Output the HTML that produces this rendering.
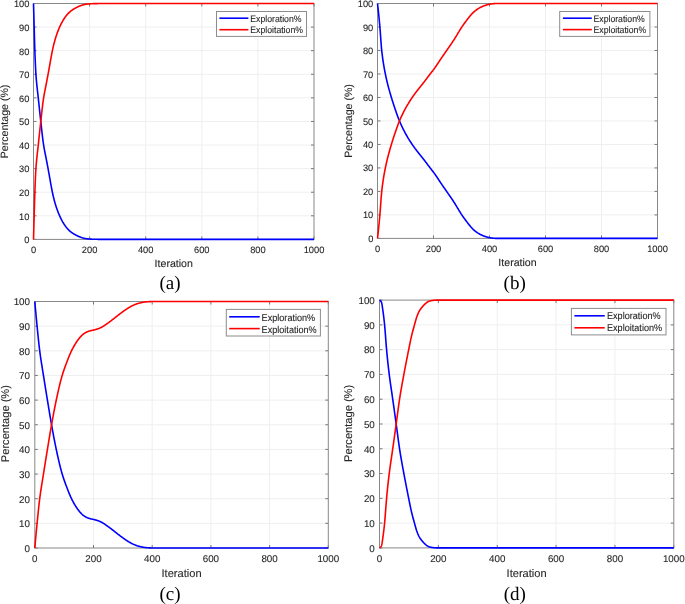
<!DOCTYPE html>
<html><head><meta charset="utf-8"><style>html,body{margin:0;padding:0;background:#fff;}svg{display:block;}#w{will-change:transform;}text{font-family:"Liberation Sans",sans-serif;fill:#262626;stroke:#262626;stroke-width:0.1px;text-rendering:geometricPrecision;}.cap{font-family:"Liberation Serif",serif;fill:#000;stroke:none;}</style></head><body>
<div id="w"><svg width="685" height="604" viewBox="0 0 685 604">
<rect x="0" y="0" width="685" height="604" fill="#fff"/>
<g>
<path d="M89.6 3.5V239.4M145.7 3.5V239.4M201.8 3.5V239.4M257.9 3.5V239.4M33.5 215.81H314M33.5 192.22H314M33.5 168.63H314M33.5 145.04H314M33.5 121.45H314M33.5 97.86H314M33.5 74.27H314M33.5 50.68H314M33.5 27.09H314" stroke="#efefef" stroke-width="1" fill="none"/>
<path d="M33.5 239.4v-3M33.5 3.5v3M89.6 239.4v-3M89.6 3.5v3M145.7 239.4v-3M145.7 3.5v3M201.8 239.4v-3M201.8 3.5v3M257.9 239.4v-3M257.9 3.5v3M314 239.4v-3M314 3.5v3M33.5 239.4h3M314 239.4h-3M33.5 215.81h3M314 215.81h-3M33.5 192.22h3M314 192.22h-3M33.5 168.63h3M314 168.63h-3M33.5 145.04h3M314 145.04h-3M33.5 121.45h3M314 121.45h-3M33.5 97.86h3M314 97.86h-3M33.5 74.27h3M314 74.27h-3M33.5 50.68h3M314 50.68h-3M33.5 27.09h3M314 27.09h-3M33.5 3.5h3M314 3.5h-3" stroke="#777" stroke-width="1" fill="none"/>
<rect x="33.5" y="3.5" width="280.5" height="235.9" fill="none" stroke="#888" stroke-width="1"/>
<path d="M33.5 3.5 L33.64 8.41 L33.78 13.33 L33.92 18.24 L34.06 23.16 L34.2 28.08 L34.34 33.22 L34.48 38.47 L34.62 43.56 L34.76 48.09 L34.9 52.16 L35.04 55.92 L35.18 59.48 L35.32 62.84 L35.46 65.97 L35.6 68.82 L35.74 71.39 L35.88 73.67 L36.02 75.72 L36.16 77.6 L36.3 79.33 L36.45 80.96 L36.59 82.49 L36.73 83.94 L36.87 85.32 L37.01 86.65 L37.15 87.92 L37.29 89.17 L37.43 90.4 L37.57 91.61 L37.71 92.84 L37.85 94.08 L37.99 95.33 L38.13 96.62 L38.27 97.92 L38.41 99.24 L38.55 100.57 L38.69 101.9 L38.83 103.24 L38.97 104.57 L39.11 105.9 L39.25 107.22 L39.39 108.54 L39.53 109.86 L39.67 111.17 L39.81 112.47 L39.95 113.76 L40.09 115.06 L40.23 116.34 L40.37 117.63 L40.51 118.91 L40.65 120.19 L40.79 121.47 L40.93 122.76 L41.07 124.04 L41.21 125.33 L41.35 126.62 L41.49 127.9 L41.63 129.19 L41.77 130.46 L41.91 131.73 L42.06 132.98 L42.2 134.21 L42.34 135.42 L42.48 136.61 L42.62 137.76 L42.76 138.89 L42.9 139.98 L43.04 141.04 L43.18 142.06 L43.32 143.05 L43.46 144 L43.6 144.91 L43.74 145.79 L43.88 146.64 L44.02 147.46 L44.16 148.26 L44.3 149.03 L44.44 149.79 L44.58 150.53 L44.72 151.26 L44.86 151.98 L45 152.69 L45.14 153.4 L45.28 154.11 L45.42 154.81 L45.56 155.52 L45.7 156.23 L45.84 156.94 L45.98 157.65 L46.12 158.36 L46.26 159.08 L46.4 159.8 L46.54 160.53 L46.68 161.26 L46.82 161.99 L46.96 162.73 L47.1 163.47 L47.24 164.21 L47.38 164.95 L47.52 165.7 L47.67 166.45 L47.81 167.21 L47.95 167.97 L48.09 168.73 L48.23 169.5 L48.37 170.27 L48.51 171.04 L48.65 171.81 L48.79 172.59 L48.93 173.37 L49.07 174.16 L49.21 174.94 L49.35 175.73 L49.49 176.52 L49.63 177.3 L49.77 178.09 L49.91 178.89 L50.05 179.68 L50.19 180.47 L50.33 181.26 L50.47 182.04 L50.74 183.57 L51.02 185.09 L51.29 186.58 L51.57 188.05 L51.84 189.48 L52.11 190.87 L52.39 192.22 L52.66 193.52 L52.93 194.78 L53.21 196 L53.48 197.16 L53.76 198.29 L54.03 199.38 L54.3 200.44 L54.58 201.46 L54.85 202.44 L55.13 203.39 L55.4 204.32 L55.67 205.21 L55.95 206.08 L56.22 206.92 L56.49 207.74 L56.77 208.54 L57.04 209.31 L57.32 210.07 L57.59 210.81 L57.86 211.53 L58.14 212.23 L58.41 212.92 L58.68 213.59 L58.96 214.25 L59.23 214.89 L59.51 215.52 L59.78 216.14 L60.05 216.74 L60.33 217.33 L60.6 217.9 L60.88 218.47 L61.15 219.02 L61.42 219.55 L61.7 220.08 L61.97 220.59 L62.24 221.09 L62.52 221.58 L62.79 222.06 L63.07 222.52 L63.34 222.98 L63.61 223.43 L63.89 223.87 L64.16 224.29 L64.44 224.71 L64.71 225.12 L64.98 225.52 L65.26 225.9 L65.53 226.28 L65.8 226.65 L66.08 227.01 L66.35 227.36 L66.63 227.69 L66.9 228.02 L67.17 228.34 L67.45 228.65 L67.72 228.95 L67.99 229.24 L68.27 229.53 L68.54 229.8 L68.82 230.08 L69.09 230.34 L69.36 230.6 L69.64 230.85 L69.91 231.09 L70.19 231.33 L70.46 231.56 L70.73 231.78 L71.01 232 L71.28 232.21 L71.55 232.41 L71.83 232.61 L72.1 232.8 L72.38 232.99 L72.65 233.18 L72.92 233.36 L73.2 233.53 L73.47 233.7 L73.75 233.87 L74.02 234.03 L74.29 234.19 L74.57 234.35 L74.84 234.5 L75.11 234.65 L75.39 234.8 L75.66 234.95 L75.94 235.1 L76.21 235.24 L76.48 235.39 L76.76 235.53 L77.03 235.67 L77.3 235.8 L77.58 235.94 L77.85 236.07 L78.13 236.2 L78.4 236.32 L78.67 236.44 L78.95 236.56 L79.22 236.68 L79.5 236.79 L79.77 236.9 L80.04 237 L80.32 237.11 L80.59 237.21 L80.86 237.31 L81.14 237.4 L81.41 237.5 L81.69 237.59 L81.96 237.68 L82.23 237.77 L82.51 237.86 L82.78 237.94 L83.06 238.02 L83.33 238.1 L83.6 238.17 L83.88 238.24 L84.15 238.3 L84.42 238.36 L84.7 238.42 L84.97 238.47 L85.25 238.52 L85.52 238.57 L85.79 238.61 L86.07 238.65 L86.34 238.69 L86.61 238.73 L86.89 238.76 L87.16 238.8 L87.44 238.83 L87.71 238.86 L87.98 238.89 L88.26 238.92 L88.53 238.95 L88.81 238.98 L89.08 239 L89.35 239.03 L89.63 239.05 L89.9 239.07 L90.17 239.09 L90.45 239.11 L90.72 239.13 L91 239.14 L91.27 239.16 L91.54 239.17 L91.82 239.18 L92.09 239.19 L92.36 239.2 L92.64 239.21 L92.91 239.22 L93.19 239.23 L93.46 239.24 L93.73 239.24 L94.01 239.25 L94.28 239.26 L94.56 239.26 L94.83 239.27 L95.1 239.27 L95.38 239.28 L95.65 239.28 L95.92 239.29 L96.2 239.3 L96.47 239.3 L96.75 239.31 L97.02 239.31 L97.29 239.32 L97.57 239.32 L97.84 239.33 L98.12 239.33 L98.39 239.33 L98.66 239.34 L98.94 239.34 L99.21 239.35 L99.48 239.35 L99.76 239.35 L100.03 239.36 L100.31 239.36 L100.58 239.36 L100.85 239.37 L101.13 239.37 L101.4 239.37 L101.67 239.38 L101.95 239.38 L102.22 239.38 L102.5 239.38 L102.77 239.38 L103.04 239.39 L103.32 239.39 L103.59 239.39 L103.87 239.39 L104.14 239.39 L104.41 239.39 L104.69 239.4 L104.96 239.4 L105.23 239.4 L105.51 239.4 L105.78 239.4 L106.06 239.4 L106.33 239.4 L106.6 239.4 L106.88 239.4 L107.15 239.4 L107.43 239.4 L107.7 239.4 L107.97 239.4 L108.25 239.4 L108.52 239.4 L108.79 239.4 L109.07 239.4 L109.34 239.4 L109.62 239.4 L109.89 239.4 L110.16 239.4 L110.44 239.4 L110.71 239.4 L110.98 239.4 L111.26 239.4 L111.53 239.4 L111.81 239.4 L112.08 239.4 L112.35 239.4 L112.63 239.4 L112.9 239.4 L113.18 239.4 L113.45 239.4 L113.72 239.4 L114 239.4 L114.27 239.4 L114.54 239.4 L114.82 239.4 L115.09 239.4 L115.37 239.4 L115.64 239.4 L115.91 239.4 L116.19 239.4 L116.46 239.4 L116.74 239.4 L117.01 239.4 L117.28 239.4 L117.56 239.4 L117.83 239.4 L118.1 239.4 L118.38 239.4 L118.65 239.4 L118.93 239.4 L119.2 239.4 L119.47 239.4 L119.75 239.4 L120.02 239.4 L120.29 239.4 L120.57 239.4 L120.84 239.4 L121.12 239.4 L121.39 239.4 L121.66 239.4 L121.94 239.4 L122.21 239.4 L122.49 239.4 L122.76 239.4 L123.03 239.4 L123.31 239.4 L123.58 239.4 L123.85 239.4 L124.13 239.4 L124.4 239.4 L124.68 239.4 L124.95 239.4 L125.22 239.4 L125.5 239.4 L125.77 239.4 L126.04 239.4 L126.32 239.4 L126.59 239.4 L126.87 239.4 L127.14 239.4 L127.41 239.4 L127.69 239.4 L127.96 239.4 L128.24 239.4 L128.51 239.4 L128.78 239.4 L129.06 239.4 L129.33 239.4 L129.6 239.4 L129.88 239.4 L130.15 239.4 L130.43 239.4 L130.7 239.4 L130.97 239.4 L131.25 239.4 L131.52 239.4 L131.8 239.4 L132.07 239.4 L132.34 239.4 L132.62 239.4 L132.89 239.4 L133.16 239.4 L133.44 239.4 L133.71 239.4 L133.99 239.4 L134.26 239.4 L134.53 239.4 L134.81 239.4 L135.08 239.4 L135.35 239.4 L135.63 239.4 L135.9 239.4 L136.18 239.4 L136.45 239.4 L136.72 239.4 L137 239.4 L137.27 239.4 L137.55 239.4 L137.82 239.4 L138.09 239.4 L138.37 239.4 L138.64 239.4 L138.91 239.4 L139.19 239.4 L139.46 239.4 L139.74 239.4 L140.01 239.4 L140.28 239.4 L140.56 239.4 L140.83 239.4 L141.11 239.4 L141.38 239.4 L141.65 239.4 L141.93 239.4 L142.2 239.4 L142.47 239.4 L142.75 239.4 L143.02 239.4 L143.3 239.4 L143.57 239.4 L143.84 239.4 L144.12 239.4 L144.39 239.4 L144.66 239.4 L144.94 239.4 L145.21 239.4 L145.49 239.4 L145.76 239.4 L146.03 239.4 L146.31 239.4 L146.58 239.4 L146.86 239.4 L147.13 239.4 L147.4 239.4 L147.68 239.4 L147.95 239.4 L148.22 239.4 L148.5 239.4 L148.77 239.4 L149.05 239.4 L149.32 239.4 L149.59 239.4 L149.87 239.4 L150.14 239.4 L150.42 239.4 L150.69 239.4 L150.96 239.4 L151.24 239.4 L151.51 239.4 L151.78 239.4 L152.06 239.4 L152.33 239.4 L152.61 239.4 L152.88 239.4 L153.15 239.4 L153.43 239.4 L153.7 239.4 L153.97 239.4 L154.25 239.4 L154.52 239.4 L154.8 239.4 L155.07 239.4 L155.34 239.4 L155.62 239.4 L155.89 239.4 L156.17 239.4 L156.44 239.4 L156.71 239.4 L156.99 239.4 L157.26 239.4 L157.53 239.4 L157.81 239.4 L158.08 239.4 L158.36 239.4 L158.63 239.4 L158.9 239.4 L159.18 239.4 L159.45 239.4 L159.73 239.4 L314 239.4" stroke="#0000ff" stroke-width="1.6" fill="none" stroke-linejoin="round"/>
<path d="M33.5 239.4 L33.64 234.49 L33.78 229.57 L33.92 224.66 L34.06 219.74 L34.2 214.82 L34.34 209.68 L34.48 204.43 L34.62 199.34 L34.76 194.81 L34.9 190.74 L35.04 186.98 L35.18 183.42 L35.32 180.06 L35.46 176.93 L35.6 174.08 L35.74 171.51 L35.88 169.23 L36.02 167.18 L36.16 165.3 L36.3 163.57 L36.45 161.94 L36.59 160.41 L36.73 158.96 L36.87 157.58 L37.01 156.25 L37.15 154.98 L37.29 153.73 L37.43 152.5 L37.57 151.29 L37.71 150.06 L37.85 148.82 L37.99 147.57 L38.13 146.28 L38.27 144.98 L38.41 143.66 L38.55 142.33 L38.69 141 L38.83 139.66 L38.97 138.33 L39.11 137 L39.25 135.68 L39.39 134.36 L39.53 133.04 L39.67 131.73 L39.81 130.43 L39.95 129.14 L40.09 127.84 L40.23 126.56 L40.37 125.27 L40.51 123.99 L40.65 122.71 L40.79 121.43 L40.93 120.14 L41.07 118.86 L41.21 117.57 L41.35 116.28 L41.49 115 L41.63 113.71 L41.77 112.44 L41.91 111.17 L42.06 109.92 L42.2 108.69 L42.34 107.48 L42.48 106.29 L42.62 105.14 L42.76 104.01 L42.9 102.92 L43.04 101.86 L43.18 100.84 L43.32 99.85 L43.46 98.9 L43.6 97.99 L43.74 97.11 L43.88 96.26 L44.02 95.44 L44.16 94.64 L44.3 93.87 L44.44 93.11 L44.58 92.37 L44.72 91.64 L44.86 90.92 L45 90.21 L45.14 89.5 L45.28 88.79 L45.42 88.09 L45.56 87.38 L45.7 86.67 L45.84 85.96 L45.98 85.25 L46.12 84.54 L46.26 83.82 L46.4 83.1 L46.54 82.37 L46.68 81.64 L46.82 80.91 L46.96 80.17 L47.1 79.43 L47.24 78.69 L47.38 77.95 L47.52 77.2 L47.67 76.45 L47.81 75.69 L47.95 74.93 L48.09 74.17 L48.23 73.4 L48.37 72.63 L48.51 71.86 L48.65 71.09 L48.79 70.31 L48.93 69.53 L49.07 68.74 L49.21 67.96 L49.35 67.17 L49.49 66.38 L49.63 65.6 L49.77 64.81 L49.91 64.01 L50.05 63.22 L50.19 62.43 L50.33 61.64 L50.47 60.86 L50.74 59.33 L51.02 57.81 L51.29 56.32 L51.57 54.85 L51.84 53.42 L52.11 52.03 L52.39 50.68 L52.66 49.38 L52.93 48.12 L53.21 46.9 L53.48 45.74 L53.76 44.61 L54.03 43.52 L54.3 42.46 L54.58 41.44 L54.85 40.46 L55.13 39.51 L55.4 38.58 L55.67 37.69 L55.95 36.82 L56.22 35.98 L56.49 35.16 L56.77 34.36 L57.04 33.59 L57.32 32.83 L57.59 32.09 L57.86 31.37 L58.14 30.67 L58.41 29.98 L58.68 29.31 L58.96 28.65 L59.23 28.01 L59.51 27.38 L59.78 26.76 L60.05 26.16 L60.33 25.57 L60.6 25 L60.88 24.43 L61.15 23.88 L61.42 23.35 L61.7 22.82 L61.97 22.31 L62.24 21.81 L62.52 21.32 L62.79 20.84 L63.07 20.38 L63.34 19.92 L63.61 19.47 L63.89 19.03 L64.16 18.61 L64.44 18.19 L64.71 17.78 L64.98 17.38 L65.26 17 L65.53 16.62 L65.8 16.25 L66.08 15.89 L66.35 15.54 L66.63 15.21 L66.9 14.88 L67.17 14.56 L67.45 14.25 L67.72 13.95 L67.99 13.66 L68.27 13.37 L68.54 13.1 L68.82 12.82 L69.09 12.56 L69.36 12.3 L69.64 12.05 L69.91 11.81 L70.19 11.57 L70.46 11.34 L70.73 11.12 L71.01 10.9 L71.28 10.69 L71.55 10.49 L71.83 10.29 L72.1 10.1 L72.38 9.91 L72.65 9.72 L72.92 9.54 L73.2 9.37 L73.47 9.2 L73.75 9.03 L74.02 8.87 L74.29 8.71 L74.57 8.55 L74.84 8.4 L75.11 8.25 L75.39 8.1 L75.66 7.95 L75.94 7.8 L76.21 7.66 L76.48 7.51 L76.76 7.37 L77.03 7.23 L77.3 7.1 L77.58 6.96 L77.85 6.83 L78.13 6.7 L78.4 6.58 L78.67 6.46 L78.95 6.34 L79.22 6.22 L79.5 6.11 L79.77 6 L80.04 5.9 L80.32 5.79 L80.59 5.69 L80.86 5.59 L81.14 5.5 L81.41 5.4 L81.69 5.31 L81.96 5.22 L82.23 5.13 L82.51 5.04 L82.78 4.96 L83.06 4.88 L83.33 4.8 L83.6 4.73 L83.88 4.66 L84.15 4.6 L84.42 4.54 L84.7 4.48 L84.97 4.43 L85.25 4.38 L85.52 4.33 L85.79 4.29 L86.07 4.25 L86.34 4.21 L86.61 4.17 L86.89 4.14 L87.16 4.1 L87.44 4.07 L87.71 4.04 L87.98 4.01 L88.26 3.98 L88.53 3.95 L88.81 3.92 L89.08 3.9 L89.35 3.87 L89.63 3.85 L89.9 3.83 L90.17 3.81 L90.45 3.79 L90.72 3.77 L91 3.76 L91.27 3.74 L91.54 3.73 L91.82 3.72 L92.09 3.71 L92.36 3.7 L92.64 3.69 L92.91 3.68 L93.19 3.67 L93.46 3.66 L93.73 3.66 L94.01 3.65 L94.28 3.64 L94.56 3.64 L94.83 3.63 L95.1 3.63 L95.38 3.62 L95.65 3.62 L95.92 3.61 L96.2 3.6 L96.47 3.6 L96.75 3.59 L97.02 3.59 L97.29 3.58 L97.57 3.58 L97.84 3.57 L98.12 3.57 L98.39 3.57 L98.66 3.56 L98.94 3.56 L99.21 3.55 L99.48 3.55 L99.76 3.55 L100.03 3.54 L100.31 3.54 L100.58 3.54 L100.85 3.53 L101.13 3.53 L101.4 3.53 L101.67 3.52 L101.95 3.52 L102.22 3.52 L102.5 3.52 L102.77 3.52 L103.04 3.51 L103.32 3.51 L103.59 3.51 L103.87 3.51 L104.14 3.51 L104.41 3.51 L104.69 3.5 L104.96 3.5 L105.23 3.5 L105.51 3.5 L105.78 3.5 L106.06 3.5 L106.33 3.5 L106.6 3.5 L106.88 3.5 L107.15 3.5 L107.43 3.5 L107.7 3.5 L107.97 3.5 L108.25 3.5 L108.52 3.5 L108.79 3.5 L109.07 3.5 L109.34 3.5 L109.62 3.5 L109.89 3.5 L110.16 3.5 L110.44 3.5 L110.71 3.5 L110.98 3.5 L111.26 3.5 L111.53 3.5 L111.81 3.5 L112.08 3.5 L112.35 3.5 L112.63 3.5 L112.9 3.5 L113.18 3.5 L113.45 3.5 L113.72 3.5 L114 3.5 L114.27 3.5 L114.54 3.5 L114.82 3.5 L115.09 3.5 L115.37 3.5 L115.64 3.5 L115.91 3.5 L116.19 3.5 L116.46 3.5 L116.74 3.5 L117.01 3.5 L117.28 3.5 L117.56 3.5 L117.83 3.5 L118.1 3.5 L118.38 3.5 L118.65 3.5 L118.93 3.5 L119.2 3.5 L119.47 3.5 L119.75 3.5 L120.02 3.5 L120.29 3.5 L120.57 3.5 L120.84 3.5 L121.12 3.5 L121.39 3.5 L121.66 3.5 L121.94 3.5 L122.21 3.5 L122.49 3.5 L122.76 3.5 L123.03 3.5 L123.31 3.5 L123.58 3.5 L123.85 3.5 L124.13 3.5 L124.4 3.5 L124.68 3.5 L124.95 3.5 L125.22 3.5 L125.5 3.5 L125.77 3.5 L126.04 3.5 L126.32 3.5 L126.59 3.5 L126.87 3.5 L127.14 3.5 L127.41 3.5 L127.69 3.5 L127.96 3.5 L128.24 3.5 L128.51 3.5 L128.78 3.5 L129.06 3.5 L129.33 3.5 L129.6 3.5 L129.88 3.5 L130.15 3.5 L130.43 3.5 L130.7 3.5 L130.97 3.5 L131.25 3.5 L131.52 3.5 L131.8 3.5 L132.07 3.5 L132.34 3.5 L132.62 3.5 L132.89 3.5 L133.16 3.5 L133.44 3.5 L133.71 3.5 L133.99 3.5 L134.26 3.5 L134.53 3.5 L134.81 3.5 L135.08 3.5 L135.35 3.5 L135.63 3.5 L135.9 3.5 L136.18 3.5 L136.45 3.5 L136.72 3.5 L137 3.5 L137.27 3.5 L137.55 3.5 L137.82 3.5 L138.09 3.5 L138.37 3.5 L138.64 3.5 L138.91 3.5 L139.19 3.5 L139.46 3.5 L139.74 3.5 L140.01 3.5 L140.28 3.5 L140.56 3.5 L140.83 3.5 L141.11 3.5 L141.38 3.5 L141.65 3.5 L141.93 3.5 L142.2 3.5 L142.47 3.5 L142.75 3.5 L143.02 3.5 L143.3 3.5 L143.57 3.5 L143.84 3.5 L144.12 3.5 L144.39 3.5 L144.66 3.5 L144.94 3.5 L145.21 3.5 L145.49 3.5 L145.76 3.5 L146.03 3.5 L146.31 3.5 L146.58 3.5 L146.86 3.5 L147.13 3.5 L147.4 3.5 L147.68 3.5 L147.95 3.5 L148.22 3.5 L148.5 3.5 L148.77 3.5 L149.05 3.5 L149.32 3.5 L149.59 3.5 L149.87 3.5 L150.14 3.5 L150.42 3.5 L150.69 3.5 L150.96 3.5 L151.24 3.5 L151.51 3.5 L151.78 3.5 L152.06 3.5 L152.33 3.5 L152.61 3.5 L152.88 3.5 L153.15 3.5 L153.43 3.5 L153.7 3.5 L153.97 3.5 L154.25 3.5 L154.52 3.5 L154.8 3.5 L155.07 3.5 L155.34 3.5 L155.62 3.5 L155.89 3.5 L156.17 3.5 L156.44 3.5 L156.71 3.5 L156.99 3.5 L157.26 3.5 L157.53 3.5 L157.81 3.5 L158.08 3.5 L158.36 3.5 L158.63 3.5 L158.9 3.5 L159.18 3.5 L159.45 3.5 L159.73 3.5 L314 3.5" stroke="#ff0000" stroke-width="1.6" fill="none" stroke-linejoin="round"/>
<text x="29.4" y="243.25" font-size="9.3" text-anchor="end">0</text>
<text x="29.4" y="219.66" font-size="9.3" text-anchor="end">10</text>
<text x="29.4" y="196.07" font-size="9.3" text-anchor="end">20</text>
<text x="29.4" y="172.48" font-size="9.3" text-anchor="end">30</text>
<text x="29.4" y="148.89" font-size="9.3" text-anchor="end">40</text>
<text x="29.4" y="125.3" font-size="9.3" text-anchor="end">50</text>
<text x="29.4" y="101.71" font-size="9.3" text-anchor="end">60</text>
<text x="29.4" y="78.12" font-size="9.3" text-anchor="end">70</text>
<text x="29.4" y="54.53" font-size="9.3" text-anchor="end">80</text>
<text x="29.4" y="30.94" font-size="9.3" text-anchor="end">90</text>
<text x="29.4" y="7.35" font-size="9.3" text-anchor="end">100</text>
<text x="33.5" y="252.6" font-size="9.3" text-anchor="middle">0</text>
<text x="89.6" y="252.6" font-size="9.3" text-anchor="middle">200</text>
<text x="145.7" y="252.6" font-size="9.3" text-anchor="middle">400</text>
<text x="201.8" y="252.6" font-size="9.3" text-anchor="middle">600</text>
<text x="257.9" y="252.6" font-size="9.3" text-anchor="middle">800</text>
<text x="314" y="252.6" font-size="9.3" text-anchor="middle">1000</text>
<text x="173.75" y="266.8" font-size="10.6" text-anchor="middle">Iteration</text>
<text x="0" y="0" font-size="10.6" text-anchor="middle" transform="translate(8 121.45) rotate(-90)">Percentage (%)</text>
<rect x="216.5" y="11.5" width="90" height="24.9" fill="#fff" stroke="#8c8c8c" stroke-width="1"/>
<path d="M219.4 18.2H248.4" stroke="#0000ff" stroke-width="1.6"/>
<path d="M219.4 29.7H248.4" stroke="#ff0000" stroke-width="1.6"/>
<text font-size="8.7" transform="translate(250.3 21.7) scale(1 1.08)">Exploration%</text>
<text font-size="8.7" transform="translate(250.3 33.2) scale(1 1.08)">Exploitation%</text>
<text class="cap" x="169.95" y="289" font-size="19" text-anchor="middle">(a)</text>
</g>
<g>
<path d="M433.5 3.5V238.4M489.5 3.5V238.4M545.5 3.5V238.4M601.5 3.5V238.4M377.5 214.91H657.5M377.5 191.42H657.5M377.5 167.93H657.5M377.5 144.44H657.5M377.5 120.95H657.5M377.5 97.46H657.5M377.5 73.97H657.5M377.5 50.48H657.5M377.5 26.99H657.5" stroke="#efefef" stroke-width="1" fill="none"/>
<path d="M377.5 238.4v-3M377.5 3.5v3M433.5 238.4v-3M433.5 3.5v3M489.5 238.4v-3M489.5 3.5v3M545.5 238.4v-3M545.5 3.5v3M601.5 238.4v-3M601.5 3.5v3M657.5 238.4v-3M657.5 3.5v3M377.5 238.4h3M657.5 238.4h-3M377.5 214.91h3M657.5 214.91h-3M377.5 191.42h3M657.5 191.42h-3M377.5 167.93h3M657.5 167.93h-3M377.5 144.44h3M657.5 144.44h-3M377.5 120.95h3M657.5 120.95h-3M377.5 97.46h3M657.5 97.46h-3M377.5 73.97h3M657.5 73.97h-3M377.5 50.48h3M657.5 50.48h-3M377.5 26.99h3M657.5 26.99h-3M377.5 3.5h3M657.5 3.5h-3" stroke="#777" stroke-width="1" fill="none"/>
<rect x="377.5" y="3.5" width="280" height="234.9" fill="none" stroke="#888" stroke-width="1"/>
<path d="M377.5 3.5 L377.64 4.66 L377.78 5.85 L377.92 7.07 L378.06 8.32 L378.2 9.61 L378.34 10.92 L378.48 12.26 L378.62 13.63 L378.76 15.03 L378.9 16.45 L379.04 17.89 L379.18 19.36 L379.32 20.85 L379.46 22.36 L379.6 23.89 L379.74 25.44 L379.88 27.04 L380.02 28.73 L380.16 30.5 L380.3 32.37 L380.44 34.29 L380.58 36.26 L380.72 38.24 L380.86 40.21 L381 42.12 L381.14 43.97 L381.28 45.71 L381.42 47.34 L381.56 48.85 L381.7 50.25 L381.84 51.56 L381.98 52.79 L382.12 53.97 L382.26 55.1 L382.4 56.2 L382.54 57.26 L382.68 58.3 L382.82 59.3 L382.96 60.28 L383.1 61.23 L383.24 62.15 L383.38 63.06 L383.52 63.94 L383.66 64.8 L383.8 65.64 L383.94 66.46 L384.08 67.26 L384.22 68.05 L384.36 68.82 L384.5 69.58 L384.64 70.33 L384.78 71.07 L384.92 71.79 L385.06 72.5 L385.2 73.21 L385.34 73.9 L385.48 74.59 L385.62 75.26 L385.76 75.93 L385.9 76.59 L386.04 77.23 L386.18 77.87 L386.32 78.5 L386.46 79.13 L386.6 79.74 L386.74 80.34 L386.88 80.94 L387.02 81.53 L387.16 82.11 L387.3 82.69 L387.44 83.26 L387.58 83.82 L387.72 84.38 L387.86 84.92 L388 85.47 L388.14 86.01 L388.28 86.54 L388.42 87.07 L388.56 87.59 L388.7 88.11 L388.84 88.62 L388.98 89.13 L389.12 89.64 L389.26 90.14 L389.4 90.65 L389.54 91.14 L389.68 91.64 L389.82 92.13 L389.96 92.62 L390.1 93.11 L390.24 93.59 L390.38 94.08 L390.52 94.56 L390.66 95.04 L390.8 95.52 L390.94 95.99 L391.08 96.46 L391.22 96.94 L391.36 97.4 L391.5 97.87 L391.64 98.33 L391.78 98.79 L391.92 99.25 L392.06 99.71 L392.2 100.16 L392.34 100.61 L392.48 101.05 L392.62 101.5 L392.76 101.94 L392.9 102.37 L393.04 102.81 L393.18 103.24 L393.32 103.67 L393.46 104.1 L393.6 104.53 L393.74 104.95 L393.88 105.38 L394.02 105.8 L394.16 106.22 L394.3 106.64 L394.44 107.05 L394.71 107.87 L394.99 108.67 L395.26 109.48 L395.53 110.28 L395.81 111.07 L396.08 111.86 L396.35 112.64 L396.63 113.42 L396.9 114.19 L397.17 114.96 L397.45 115.71 L397.72 116.45 L397.99 117.18 L398.27 117.9 L398.54 118.61 L398.81 119.31 L399.09 119.99 L399.36 120.67 L399.63 121.33 L399.91 121.98 L400.18 122.62 L400.45 123.25 L400.73 123.87 L401 124.48 L401.27 125.08 L401.55 125.68 L401.82 126.26 L402.09 126.84 L402.37 127.42 L402.64 127.98 L402.91 128.54 L403.19 129.09 L403.46 129.63 L403.73 130.17 L404.01 130.7 L404.28 131.22 L404.55 131.74 L404.83 132.26 L405.1 132.77 L405.37 133.27 L405.65 133.77 L405.92 134.26 L406.19 134.74 L406.47 135.23 L406.74 135.71 L407.01 136.18 L407.29 136.65 L407.56 137.12 L407.83 137.58 L408.11 138.03 L408.38 138.49 L408.65 138.94 L408.93 139.38 L409.2 139.82 L409.47 140.26 L409.75 140.69 L410.02 141.12 L410.29 141.55 L410.57 141.97 L410.84 142.39 L411.11 142.81 L411.39 143.22 L411.66 143.63 L411.93 144.03 L412.21 144.43 L412.48 144.83 L412.75 145.23 L413.03 145.62 L413.3 146.01 L413.57 146.39 L413.85 146.78 L414.12 147.15 L414.39 147.53 L414.67 147.9 L414.94 148.27 L415.21 148.64 L415.49 149 L415.76 149.37 L416.03 149.73 L416.31 150.09 L416.58 150.44 L416.85 150.8 L417.13 151.15 L417.4 151.5 L417.67 151.85 L417.95 152.2 L418.22 152.55 L418.49 152.89 L418.77 153.24 L419.04 153.58 L419.31 153.92 L419.59 154.27 L419.86 154.61 L420.13 154.95 L420.41 155.28 L420.68 155.62 L420.95 155.96 L421.23 156.3 L421.5 156.64 L421.77 156.97 L422.05 157.32 L422.32 157.66 L422.59 158 L422.87 158.35 L423.14 158.69 L423.41 159.04 L423.69 159.39 L423.96 159.74 L424.23 160.09 L424.51 160.45 L424.78 160.8 L425.05 161.16 L425.33 161.52 L425.6 161.88 L425.87 162.25 L426.15 162.61 L426.42 162.97 L426.69 163.33 L426.97 163.7 L427.24 164.06 L427.51 164.43 L427.79 164.79 L428.06 165.16 L428.33 165.52 L428.61 165.88 L428.88 166.24 L429.15 166.6 L429.43 166.96 L429.7 167.32 L429.97 167.68 L430.25 168.03 L430.52 168.39 L430.79 168.74 L431.07 169.09 L431.34 169.44 L431.61 169.79 L431.89 170.14 L432.16 170.49 L432.43 170.85 L432.71 171.2 L432.98 171.56 L433.25 171.91 L433.53 172.27 L433.8 172.64 L434.07 173 L434.35 173.38 L434.62 173.75 L434.89 174.13 L435.17 174.51 L435.44 174.9 L435.71 175.29 L435.99 175.69 L436.26 176.09 L436.53 176.49 L436.81 176.9 L437.08 177.31 L437.35 177.72 L437.63 178.13 L437.9 178.55 L438.17 178.96 L438.45 179.38 L438.72 179.8 L438.99 180.22 L439.27 180.63 L439.54 181.05 L439.81 181.46 L440.09 181.88 L440.36 182.29 L440.63 182.7 L440.91 183.1 L441.18 183.51 L441.45 183.91 L441.73 184.32 L442 184.72 L442.27 185.12 L442.55 185.51 L442.82 185.91 L443.09 186.3 L443.37 186.7 L443.64 187.09 L443.91 187.48 L444.19 187.87 L444.46 188.27 L444.73 188.66 L445.01 189.05 L445.28 189.44 L445.55 189.84 L445.83 190.23 L446.1 190.62 L446.37 191.01 L446.65 191.4 L446.92 191.79 L447.19 192.19 L447.47 192.58 L447.74 192.97 L448.01 193.37 L448.29 193.76 L448.56 194.15 L448.83 194.55 L449.11 194.94 L449.38 195.33 L449.65 195.72 L449.93 196.12 L450.2 196.52 L450.47 196.91 L450.75 197.31 L451.02 197.71 L451.29 198.11 L451.57 198.51 L451.84 198.92 L452.11 199.32 L452.39 199.73 L452.66 200.14 L452.93 200.55 L453.21 200.97 L453.48 201.39 L453.75 201.81 L454.03 202.23 L454.3 202.66 L454.57 203.09 L454.85 203.53 L455.12 203.96 L455.39 204.41 L455.67 204.85 L455.94 205.3 L456.21 205.75 L456.49 206.2 L456.76 206.66 L457.03 207.12 L457.31 207.57 L457.58 208.03 L457.85 208.49 L458.13 208.95 L458.4 209.4 L458.67 209.86 L458.95 210.31 L459.22 210.77 L459.49 211.21 L459.77 211.66 L460.04 212.1 L460.31 212.54 L460.59 212.97 L460.86 213.4 L461.13 213.83 L461.41 214.25 L461.68 214.66 L461.95 215.07 L462.23 215.48 L462.5 215.88 L462.77 216.28 L463.05 216.67 L463.32 217.06 L463.59 217.45 L463.87 217.83 L464.14 218.21 L464.41 218.59 L464.69 218.96 L464.96 219.33 L465.23 219.7 L465.51 220.07 L465.78 220.43 L466.05 220.79 L466.33 221.15 L466.6 221.51 L466.87 221.87 L467.15 222.23 L467.42 222.58 L467.69 222.94 L467.97 223.29 L468.24 223.64 L468.51 223.99 L468.79 224.34 L469.06 224.69 L469.33 225.03 L469.61 225.37 L469.88 225.71 L470.15 226.04 L470.43 226.37 L470.7 226.69 L470.97 227.01 L471.25 227.32 L471.52 227.63 L471.79 227.92 L472.07 228.21 L472.34 228.5 L472.61 228.78 L472.89 229.05 L473.16 229.31 L473.43 229.57 L473.71 229.82 L473.98 230.07 L474.25 230.31 L474.53 230.55 L474.8 230.77 L475.07 231 L475.35 231.22 L475.62 231.43 L475.89 231.64 L476.17 231.85 L476.44 232.05 L476.71 232.24 L476.99 232.43 L477.26 232.62 L477.53 232.8 L477.81 232.98 L478.08 233.16 L478.35 233.33 L478.63 233.49 L478.9 233.66 L479.17 233.81 L479.45 233.97 L479.72 234.12 L479.99 234.27 L480.27 234.41 L480.54 234.55 L480.81 234.69 L481.09 234.83 L481.36 234.96 L481.63 235.09 L481.91 235.21 L482.18 235.33 L482.45 235.45 L482.73 235.57 L483 235.68 L483.27 235.79 L483.55 235.9 L483.82 236.01 L484.09 236.11 L484.37 236.21 L484.64 236.31 L484.91 236.41 L485.19 236.5 L485.46 236.59 L485.73 236.68 L486.01 236.77 L486.28 236.85 L486.55 236.94 L486.83 237.02 L487.1 237.09 L487.37 237.17 L487.65 237.24 L487.92 237.31 L488.19 237.38 L488.47 237.45 L488.74 237.51 L489.01 237.57 L489.29 237.62 L489.56 237.68 L489.83 237.73 L490.11 237.78 L490.38 237.83 L490.65 237.87 L490.93 237.91 L491.2 237.95 L491.47 237.99 L491.75 238.03 L492.02 238.07 L492.29 238.1 L492.57 238.13 L492.84 238.16 L493.11 238.19 L493.39 238.22 L493.66 238.24 L493.93 238.26 L494.21 238.29 L494.48 238.3 L494.75 238.32 L495.03 238.33 L495.3 238.35 L495.57 238.36 L495.85 238.37 L496.12 238.37 L496.39 238.38 L496.67 238.39 L496.94 238.39 L497.21 238.39 L497.49 238.39 L497.76 238.4 L498.03 238.4 L498.31 238.4 L498.58 238.4 L498.85 238.4 L499.13 238.4 L499.4 238.4 L499.67 238.4 L499.95 238.4 L500.22 238.4 L500.49 238.4 L500.77 238.4 L501.04 238.4 L501.31 238.4 L501.59 238.4 L501.86 238.4 L502.13 238.4 L502.41 238.4 L502.68 238.4 L502.95 238.4 L503.23 238.4 L503.5 238.4 L657.5 238.4" stroke="#0000ff" stroke-width="1.6" fill="none" stroke-linejoin="round"/>
<path d="M377.5 238.4 L377.64 237.24 L377.78 236.05 L377.92 234.83 L378.06 233.58 L378.2 232.29 L378.34 230.98 L378.48 229.64 L378.62 228.27 L378.76 226.87 L378.9 225.45 L379.04 224.01 L379.18 222.54 L379.32 221.05 L379.46 219.54 L379.6 218.01 L379.74 216.46 L379.88 214.86 L380.02 213.17 L380.16 211.4 L380.3 209.53 L380.44 207.61 L380.58 205.64 L380.72 203.66 L380.86 201.69 L381 199.78 L381.14 197.93 L381.28 196.19 L381.42 194.56 L381.56 193.05 L381.7 191.65 L381.84 190.34 L381.98 189.11 L382.12 187.93 L382.26 186.8 L382.4 185.7 L382.54 184.64 L382.68 183.6 L382.82 182.6 L382.96 181.62 L383.1 180.67 L383.24 179.75 L383.38 178.84 L383.52 177.96 L383.66 177.1 L383.8 176.26 L383.94 175.44 L384.08 174.64 L384.22 173.85 L384.36 173.08 L384.5 172.32 L384.64 171.57 L384.78 170.83 L384.92 170.11 L385.06 169.4 L385.2 168.69 L385.34 168 L385.48 167.31 L385.62 166.64 L385.76 165.97 L385.9 165.31 L386.04 164.67 L386.18 164.03 L386.32 163.4 L386.46 162.77 L386.6 162.16 L386.74 161.56 L386.88 160.96 L387.02 160.37 L387.16 159.79 L387.3 159.21 L387.44 158.64 L387.58 158.08 L387.72 157.52 L387.86 156.98 L388 156.43 L388.14 155.89 L388.28 155.36 L388.42 154.83 L388.56 154.31 L388.7 153.79 L388.84 153.28 L388.98 152.77 L389.12 152.26 L389.26 151.76 L389.4 151.25 L389.54 150.76 L389.68 150.26 L389.82 149.77 L389.96 149.28 L390.1 148.79 L390.24 148.31 L390.38 147.82 L390.52 147.34 L390.66 146.86 L390.8 146.38 L390.94 145.91 L391.08 145.44 L391.22 144.96 L391.36 144.5 L391.5 144.03 L391.64 143.57 L391.78 143.11 L391.92 142.65 L392.06 142.19 L392.2 141.74 L392.34 141.29 L392.48 140.85 L392.62 140.4 L392.76 139.96 L392.9 139.53 L393.04 139.09 L393.18 138.66 L393.32 138.23 L393.46 137.8 L393.6 137.37 L393.74 136.95 L393.88 136.52 L394.02 136.1 L394.16 135.68 L394.3 135.26 L394.44 134.85 L394.71 134.03 L394.99 133.23 L395.26 132.42 L395.53 131.62 L395.81 130.83 L396.08 130.04 L396.35 129.26 L396.63 128.48 L396.9 127.71 L397.17 126.94 L397.45 126.19 L397.72 125.45 L397.99 124.72 L398.27 124 L398.54 123.29 L398.81 122.59 L399.09 121.91 L399.36 121.23 L399.63 120.57 L399.91 119.92 L400.18 119.28 L400.45 118.65 L400.73 118.03 L401 117.42 L401.27 116.82 L401.55 116.22 L401.82 115.64 L402.09 115.06 L402.37 114.48 L402.64 113.92 L402.91 113.36 L403.19 112.81 L403.46 112.27 L403.73 111.73 L404.01 111.2 L404.28 110.68 L404.55 110.16 L404.83 109.64 L405.1 109.13 L405.37 108.63 L405.65 108.13 L405.92 107.64 L406.19 107.16 L406.47 106.67 L406.74 106.19 L407.01 105.72 L407.29 105.25 L407.56 104.78 L407.83 104.32 L408.11 103.87 L408.38 103.41 L408.65 102.96 L408.93 102.52 L409.2 102.08 L409.47 101.64 L409.75 101.21 L410.02 100.78 L410.29 100.35 L410.57 99.93 L410.84 99.51 L411.11 99.09 L411.39 98.68 L411.66 98.27 L411.93 97.87 L412.21 97.47 L412.48 97.07 L412.75 96.67 L413.03 96.28 L413.3 95.89 L413.57 95.51 L413.85 95.12 L414.12 94.75 L414.39 94.37 L414.67 94 L414.94 93.63 L415.21 93.26 L415.49 92.9 L415.76 92.53 L416.03 92.17 L416.31 91.81 L416.58 91.46 L416.85 91.1 L417.13 90.75 L417.4 90.4 L417.67 90.05 L417.95 89.7 L418.22 89.35 L418.49 89.01 L418.77 88.66 L419.04 88.32 L419.31 87.98 L419.59 87.63 L419.86 87.29 L420.13 86.95 L420.41 86.62 L420.68 86.28 L420.95 85.94 L421.23 85.6 L421.5 85.26 L421.77 84.93 L422.05 84.58 L422.32 84.24 L422.59 83.9 L422.87 83.55 L423.14 83.21 L423.41 82.86 L423.69 82.51 L423.96 82.16 L424.23 81.81 L424.51 81.45 L424.78 81.1 L425.05 80.74 L425.33 80.38 L425.6 80.02 L425.87 79.65 L426.15 79.29 L426.42 78.93 L426.69 78.57 L426.97 78.2 L427.24 77.84 L427.51 77.47 L427.79 77.11 L428.06 76.74 L428.33 76.38 L428.61 76.02 L428.88 75.66 L429.15 75.3 L429.43 74.94 L429.7 74.58 L429.97 74.22 L430.25 73.87 L430.52 73.51 L430.79 73.16 L431.07 72.81 L431.34 72.46 L431.61 72.11 L431.89 71.76 L432.16 71.41 L432.43 71.05 L432.71 70.7 L432.98 70.34 L433.25 69.99 L433.53 69.63 L433.8 69.26 L434.07 68.9 L434.35 68.52 L434.62 68.15 L434.89 67.77 L435.17 67.39 L435.44 67 L435.71 66.61 L435.99 66.21 L436.26 65.81 L436.53 65.41 L436.81 65 L437.08 64.59 L437.35 64.18 L437.63 63.77 L437.9 63.35 L438.17 62.94 L438.45 62.52 L438.72 62.1 L438.99 61.68 L439.27 61.27 L439.54 60.85 L439.81 60.44 L440.09 60.02 L440.36 59.61 L440.63 59.2 L440.91 58.8 L441.18 58.39 L441.45 57.99 L441.73 57.58 L442 57.18 L442.27 56.78 L442.55 56.39 L442.82 55.99 L443.09 55.6 L443.37 55.2 L443.64 54.81 L443.91 54.42 L444.19 54.03 L444.46 53.63 L444.73 53.24 L445.01 52.85 L445.28 52.46 L445.55 52.06 L445.83 51.67 L446.1 51.28 L446.37 50.89 L446.65 50.5 L446.92 50.11 L447.19 49.71 L447.47 49.32 L447.74 48.93 L448.01 48.53 L448.29 48.14 L448.56 47.75 L448.83 47.35 L449.11 46.96 L449.38 46.57 L449.65 46.18 L449.93 45.78 L450.2 45.38 L450.47 44.99 L450.75 44.59 L451.02 44.19 L451.29 43.79 L451.57 43.39 L451.84 42.98 L452.11 42.58 L452.39 42.17 L452.66 41.76 L452.93 41.35 L453.21 40.93 L453.48 40.51 L453.75 40.09 L454.03 39.67 L454.3 39.24 L454.57 38.81 L454.85 38.37 L455.12 37.94 L455.39 37.49 L455.67 37.05 L455.94 36.6 L456.21 36.15 L456.49 35.7 L456.76 35.24 L457.03 34.78 L457.31 34.33 L457.58 33.87 L457.85 33.41 L458.13 32.95 L458.4 32.5 L458.67 32.04 L458.95 31.59 L459.22 31.13 L459.49 30.69 L459.77 30.24 L460.04 29.8 L460.31 29.36 L460.59 28.93 L460.86 28.5 L461.13 28.07 L461.41 27.65 L461.68 27.24 L461.95 26.83 L462.23 26.42 L462.5 26.02 L462.77 25.62 L463.05 25.23 L463.32 24.84 L463.59 24.45 L463.87 24.07 L464.14 23.69 L464.41 23.31 L464.69 22.94 L464.96 22.57 L465.23 22.2 L465.51 21.83 L465.78 21.47 L466.05 21.11 L466.33 20.75 L466.6 20.39 L466.87 20.03 L467.15 19.67 L467.42 19.32 L467.69 18.96 L467.97 18.61 L468.24 18.26 L468.51 17.91 L468.79 17.56 L469.06 17.21 L469.33 16.87 L469.61 16.53 L469.88 16.19 L470.15 15.86 L470.43 15.53 L470.7 15.21 L470.97 14.89 L471.25 14.58 L471.52 14.27 L471.79 13.98 L472.07 13.69 L472.34 13.4 L472.61 13.12 L472.89 12.85 L473.16 12.59 L473.43 12.33 L473.71 12.08 L473.98 11.83 L474.25 11.59 L474.53 11.35 L474.8 11.13 L475.07 10.9 L475.35 10.68 L475.62 10.47 L475.89 10.26 L476.17 10.05 L476.44 9.85 L476.71 9.66 L476.99 9.47 L477.26 9.28 L477.53 9.1 L477.81 8.92 L478.08 8.74 L478.35 8.57 L478.63 8.41 L478.9 8.24 L479.17 8.09 L479.45 7.93 L479.72 7.78 L479.99 7.63 L480.27 7.49 L480.54 7.35 L480.81 7.21 L481.09 7.07 L481.36 6.94 L481.63 6.81 L481.91 6.69 L482.18 6.57 L482.45 6.45 L482.73 6.33 L483 6.22 L483.27 6.11 L483.55 6 L483.82 5.89 L484.09 5.79 L484.37 5.69 L484.64 5.59 L484.91 5.49 L485.19 5.4 L485.46 5.31 L485.73 5.22 L486.01 5.13 L486.28 5.05 L486.55 4.96 L486.83 4.88 L487.1 4.81 L487.37 4.73 L487.65 4.66 L487.92 4.59 L488.19 4.52 L488.47 4.45 L488.74 4.39 L489.01 4.33 L489.29 4.28 L489.56 4.22 L489.83 4.17 L490.11 4.12 L490.38 4.07 L490.65 4.03 L490.93 3.99 L491.2 3.95 L491.47 3.91 L491.75 3.87 L492.02 3.83 L492.29 3.8 L492.57 3.77 L492.84 3.74 L493.11 3.71 L493.39 3.68 L493.66 3.66 L493.93 3.64 L494.21 3.61 L494.48 3.6 L494.75 3.58 L495.03 3.57 L495.3 3.55 L495.57 3.54 L495.85 3.53 L496.12 3.53 L496.39 3.52 L496.67 3.51 L496.94 3.51 L497.21 3.51 L497.49 3.51 L497.76 3.5 L498.03 3.5 L498.31 3.5 L498.58 3.5 L498.85 3.5 L499.13 3.5 L499.4 3.5 L499.67 3.5 L499.95 3.5 L500.22 3.5 L500.49 3.5 L500.77 3.5 L501.04 3.5 L501.31 3.5 L501.59 3.5 L501.86 3.5 L502.13 3.5 L502.41 3.5 L502.68 3.5 L502.95 3.5 L503.23 3.5 L503.5 3.5 L657.5 3.5" stroke="#ff0000" stroke-width="1.6" fill="none" stroke-linejoin="round"/>
<text x="373.3" y="241.95" font-size="9.3" text-anchor="end">0</text>
<text x="373.3" y="218.46" font-size="9.3" text-anchor="end">10</text>
<text x="373.3" y="194.97" font-size="9.3" text-anchor="end">20</text>
<text x="373.3" y="171.48" font-size="9.3" text-anchor="end">30</text>
<text x="373.3" y="147.99" font-size="9.3" text-anchor="end">40</text>
<text x="373.3" y="124.5" font-size="9.3" text-anchor="end">50</text>
<text x="373.3" y="101.01" font-size="9.3" text-anchor="end">60</text>
<text x="373.3" y="77.52" font-size="9.3" text-anchor="end">70</text>
<text x="373.3" y="54.03" font-size="9.3" text-anchor="end">80</text>
<text x="373.3" y="30.54" font-size="9.3" text-anchor="end">90</text>
<text x="373.3" y="7.05" font-size="9.3" text-anchor="end">100</text>
<text x="377.5" y="251.8" font-size="9.3" text-anchor="middle">0</text>
<text x="433.5" y="251.8" font-size="9.3" text-anchor="middle">200</text>
<text x="489.5" y="251.8" font-size="9.3" text-anchor="middle">400</text>
<text x="545.5" y="251.8" font-size="9.3" text-anchor="middle">600</text>
<text x="601.5" y="251.8" font-size="9.3" text-anchor="middle">800</text>
<text x="657.5" y="251.8" font-size="9.3" text-anchor="middle">1000</text>
<text x="517.5" y="265.7" font-size="10.6" text-anchor="middle">Iteration</text>
<text x="0" y="0" font-size="10.6" text-anchor="middle" transform="translate(351.6 120.95) rotate(-90)">Percentage (%)</text>
<rect x="559.7" y="11.5" width="90.2" height="24.9" fill="#fff" stroke="#8c8c8c" stroke-width="1"/>
<path d="M562.9 18.2H591.8" stroke="#0000ff" stroke-width="1.6"/>
<path d="M562.9 29.6H591.8" stroke="#ff0000" stroke-width="1.6"/>
<text font-size="8.7" transform="translate(593.5 21.7) scale(1 1.08)">Exploration%</text>
<text font-size="8.7" transform="translate(593.5 33.1) scale(1 1.08)">Exploitation%</text>
<text class="cap" x="514.7" y="289" font-size="19" text-anchor="middle">(b)</text>
</g>
<g>
<path d="M93.5 301.5V548M152.2 301.5V548M210.9 301.5V548M269.6 301.5V548M34.8 523.35H328.3M34.8 498.7H328.3M34.8 474.05H328.3M34.8 449.4H328.3M34.8 424.75H328.3M34.8 400.1H328.3M34.8 375.45H328.3M34.8 350.8H328.3M34.8 326.15H328.3" stroke="#efefef" stroke-width="1" fill="none"/>
<path d="M34.8 548v-3M34.8 301.5v3M93.5 548v-3M93.5 301.5v3M152.2 548v-3M152.2 301.5v3M210.9 548v-3M210.9 301.5v3M269.6 548v-3M269.6 301.5v3M328.3 548v-3M328.3 301.5v3M34.8 548h3M328.3 548h-3M34.8 523.35h3M328.3 523.35h-3M34.8 498.7h3M328.3 498.7h-3M34.8 474.05h3M328.3 474.05h-3M34.8 449.4h3M328.3 449.4h-3M34.8 424.75h3M328.3 424.75h-3M34.8 400.1h3M328.3 400.1h-3M34.8 375.45h3M328.3 375.45h-3M34.8 350.8h3M328.3 350.8h-3M34.8 326.15h3M328.3 326.15h-3M34.8 301.5h3M328.3 301.5h-3" stroke="#777" stroke-width="1" fill="none"/>
<rect x="34.8" y="301.5" width="293.5" height="246.5" fill="none" stroke="#888" stroke-width="1"/>
<path d="M34.8 301.5 L34.95 303.17 L35.09 304.82 L35.24 306.47 L35.39 308.1 L35.53 309.72 L35.68 311.33 L35.83 312.93 L35.97 314.52 L36.12 316.09 L36.27 317.65 L36.41 319.2 L36.56 320.73 L36.71 322.25 L36.85 323.76 L37 325.25 L37.15 326.74 L37.29 328.22 L37.44 329.71 L37.59 331.19 L37.73 332.66 L37.88 334.13 L38.03 335.59 L38.18 337.04 L38.32 338.47 L38.47 339.89 L38.62 341.28 L38.76 342.65 L38.91 344 L39.06 345.31 L39.2 346.6 L39.35 347.85 L39.5 349.06 L39.64 350.25 L39.79 351.4 L39.94 352.53 L40.08 353.62 L40.23 354.7 L40.38 355.75 L40.52 356.78 L40.67 357.8 L40.82 358.79 L40.96 359.77 L41.11 360.74 L41.26 361.69 L41.4 362.64 L41.55 363.57 L41.7 364.5 L41.84 365.42 L41.99 366.33 L42.14 367.24 L42.28 368.15 L42.43 369.06 L42.58 369.97 L42.72 370.88 L42.87 371.8 L43.02 372.71 L43.16 373.63 L43.31 374.55 L43.46 375.47 L43.6 376.4 L43.75 377.32 L43.9 378.24 L44.05 379.17 L44.19 380.09 L44.34 381.02 L44.49 381.94 L44.63 382.86 L44.78 383.78 L44.93 384.7 L45.07 385.61 L45.22 386.53 L45.37 387.44 L45.51 388.35 L45.66 389.26 L45.81 390.17 L45.95 391.08 L46.1 391.98 L46.25 392.89 L46.39 393.79 L46.54 394.69 L46.69 395.6 L46.83 396.5 L46.98 397.4 L47.13 398.3 L47.27 399.2 L47.42 400.1 L47.57 401 L47.71 401.9 L47.86 402.8 L48.01 403.7 L48.15 404.59 L48.3 405.49 L48.45 406.39 L48.59 407.28 L48.74 408.18 L48.89 409.07 L49.03 409.96 L49.18 410.85 L49.33 411.74 L49.47 412.62 L49.62 413.5 L49.77 414.38 L49.92 415.25 L50.06 416.12 L50.21 416.99 L50.36 417.86 L50.5 418.72 L50.65 419.57 L50.8 420.42 L50.94 421.27 L51.09 422.12 L51.24 422.96 L51.38 423.79 L51.53 424.63 L51.68 425.46 L51.82 426.28 L51.97 427.1 L52.12 427.92 L52.26 428.74 L52.41 429.55 L52.56 430.35 L52.84 431.92 L53.13 433.47 L53.42 435 L53.7 436.53 L53.99 438.03 L54.28 439.52 L54.56 440.99 L54.85 442.44 L55.14 443.88 L55.42 445.3 L55.71 446.7 L55.99 448.09 L56.28 449.47 L56.57 450.83 L56.85 452.18 L57.14 453.51 L57.43 454.82 L57.71 456.13 L58 457.41 L58.29 458.69 L58.57 459.94 L58.86 461.17 L59.15 462.4 L59.43 463.6 L59.72 464.78 L60.01 465.94 L60.29 467.08 L60.58 468.2 L60.87 469.29 L61.15 470.36 L61.44 471.41 L61.73 472.42 L62.01 473.41 L62.3 474.38 L62.58 475.32 L62.87 476.24 L63.16 477.14 L63.44 478.02 L63.73 478.88 L64.02 479.72 L64.3 480.54 L64.59 481.36 L64.88 482.15 L65.16 482.95 L65.45 483.73 L65.74 484.51 L66.02 485.28 L66.31 486.04 L66.6 486.81 L66.88 487.56 L67.17 488.31 L67.46 489.06 L67.74 489.8 L68.03 490.54 L68.31 491.26 L68.6 491.99 L68.89 492.7 L69.17 493.4 L69.46 494.09 L69.75 494.78 L70.03 495.45 L70.32 496.1 L70.61 496.75 L70.89 497.37 L71.18 497.99 L71.47 498.6 L71.75 499.19 L72.04 499.77 L72.33 500.33 L72.61 500.89 L72.9 501.43 L73.19 501.96 L73.47 502.48 L73.76 502.99 L74.05 503.49 L74.33 503.99 L74.62 504.47 L74.9 504.95 L75.19 505.42 L75.48 505.88 L75.76 506.33 L76.05 506.78 L76.34 507.22 L76.62 507.65 L76.91 508.08 L77.2 508.5 L77.48 508.91 L77.77 509.31 L78.06 509.71 L78.34 510.09 L78.63 510.47 L78.92 510.84 L79.2 511.19 L79.49 511.54 L79.78 511.88 L80.06 512.21 L80.35 512.53 L80.63 512.84 L80.92 513.15 L81.21 513.44 L81.49 513.73 L81.78 514.01 L82.07 514.28 L82.35 514.54 L82.64 514.79 L82.93 515.03 L83.21 515.27 L83.5 515.49 L83.79 515.71 L84.07 515.92 L84.36 516.11 L84.65 516.3 L84.93 516.48 L85.22 516.66 L85.51 516.82 L85.79 516.98 L86.08 517.13 L86.37 517.27 L86.65 517.41 L86.94 517.54 L87.22 517.67 L87.51 517.79 L87.8 517.9 L88.08 518.01 L88.37 518.12 L88.66 518.21 L88.94 518.31 L89.23 518.4 L89.52 518.48 L89.8 518.56 L90.09 518.64 L90.38 518.71 L90.66 518.78 L90.95 518.85 L91.24 518.91 L91.52 518.98 L91.81 519.04 L92.1 519.11 L92.38 519.17 L92.67 519.23 L92.95 519.3 L93.24 519.37 L93.53 519.43 L93.81 519.5 L94.1 519.57 L94.39 519.64 L94.67 519.72 L94.96 519.79 L95.25 519.87 L95.53 519.95 L95.82 520.03 L96.11 520.11 L96.39 520.19 L96.68 520.28 L96.97 520.37 L97.25 520.46 L97.54 520.56 L97.83 520.66 L98.11 520.76 L98.4 520.86 L98.69 520.97 L98.97 521.09 L99.26 521.2 L99.54 521.32 L99.83 521.44 L100.12 521.57 L100.4 521.7 L100.69 521.84 L100.98 521.98 L101.26 522.12 L101.55 522.27 L101.84 522.42 L102.12 522.57 L102.41 522.73 L102.7 522.9 L102.98 523.07 L103.27 523.24 L103.56 523.42 L103.84 523.6 L104.13 523.79 L104.42 523.98 L104.7 524.17 L104.99 524.37 L105.27 524.56 L105.56 524.76 L105.85 524.96 L106.13 525.16 L106.42 525.37 L106.71 525.57 L106.99 525.77 L107.28 525.98 L107.57 526.18 L107.85 526.39 L108.14 526.6 L108.43 526.8 L108.71 527.01 L109 527.22 L109.29 527.43 L109.57 527.64 L109.86 527.85 L110.15 528.06 L110.43 528.28 L110.72 528.49 L111.01 528.71 L111.29 528.93 L111.58 529.15 L111.86 529.37 L112.15 529.59 L112.44 529.81 L112.72 530.03 L113.01 530.25 L113.3 530.48 L113.58 530.7 L113.87 530.93 L114.16 531.15 L114.44 531.38 L114.73 531.61 L115.02 531.83 L115.3 532.06 L115.59 532.29 L115.88 532.51 L116.16 532.74 L116.45 532.96 L116.74 533.19 L117.02 533.41 L117.31 533.64 L117.59 533.87 L117.88 534.09 L118.17 534.31 L118.45 534.54 L118.74 534.76 L119.03 534.98 L119.31 535.2 L119.6 535.42 L119.89 535.64 L120.17 535.85 L120.46 536.07 L120.75 536.28 L121.03 536.5 L121.32 536.71 L121.61 536.92 L121.89 537.13 L122.18 537.34 L122.47 537.55 L122.75 537.76 L123.04 537.96 L123.33 538.17 L123.61 538.37 L123.9 538.58 L124.18 538.78 L124.47 538.98 L124.76 539.18 L125.04 539.38 L125.33 539.58 L125.62 539.78 L125.9 539.97 L126.19 540.17 L126.48 540.36 L126.76 540.56 L127.05 540.74 L127.34 540.93 L127.62 541.12 L127.91 541.3 L128.2 541.48 L128.48 541.66 L128.77 541.83 L129.06 542 L129.34 542.17 L129.63 542.34 L129.91 542.5 L130.2 542.66 L130.49 542.82 L130.77 542.97 L131.06 543.13 L131.35 543.28 L131.63 543.42 L131.92 543.57 L132.21 543.71 L132.49 543.85 L132.78 543.99 L133.07 544.12 L133.35 544.25 L133.64 544.38 L133.93 544.51 L134.21 544.63 L134.5 544.75 L134.79 544.87 L135.07 544.99 L135.36 545.1 L135.65 545.21 L135.93 545.32 L136.22 545.43 L136.5 545.53 L136.79 545.63 L137.08 545.72 L137.36 545.82 L137.65 545.91 L137.94 546 L138.22 546.08 L138.51 546.17 L138.8 546.25 L139.08 546.33 L139.37 546.4 L139.66 546.48 L139.94 546.55 L140.23 546.62 L140.52 546.69 L140.8 546.75 L141.09 546.82 L141.38 546.88 L141.66 546.94 L141.95 547 L142.23 547.05 L142.52 547.11 L142.81 547.16 L143.09 547.21 L143.38 547.26 L143.67 547.31 L143.95 547.35 L144.24 547.4 L144.53 547.44 L144.81 547.48 L145.1 547.52 L145.39 547.55 L145.67 547.59 L145.96 547.62 L146.25 547.65 L146.53 547.67 L146.82 547.7 L147.11 547.72 L147.39 547.74 L147.68 547.77 L147.97 547.79 L148.25 547.8 L148.54 547.82 L148.82 547.84 L149.11 547.85 L149.4 547.86 L149.68 547.88 L149.97 547.89 L150.26 547.9 L150.54 547.91 L150.83 547.92 L151.12 547.93 L151.4 547.94 L151.69 547.94 L151.98 547.95 L152.26 547.96 L152.55 547.96 L152.84 547.97 L153.12 547.97 L153.41 547.98 L153.7 547.98 L153.98 547.99 L154.27 547.99 L154.55 547.99 L154.84 547.99 L155.13 548 L155.41 548 L155.7 548 L155.99 548 L156.27 548 L156.56 548 L156.85 548 L157.13 548 L157.42 548 L157.71 548 L157.99 548 L158.28 548 L158.57 548 L158.85 548 L159.14 548 L159.43 548 L159.71 548 L160 548 L160.29 548 L160.57 548 L160.86 548 L161.14 548 L161.43 548 L161.72 548 L162 548 L162.29 548 L162.58 548 L162.86 548 L163.15 548 L163.44 548 L163.72 548 L164.01 548 L164.3 548 L164.58 548 L164.87 548 L165.16 548 L165.44 548 L165.73 548 L166.02 548 L166.3 548 L166.59 548 L166.88 548 L328.3 548" stroke="#0000ff" stroke-width="1.6" fill="none" stroke-linejoin="round"/>
<path d="M34.8 548 L34.95 546.33 L35.09 544.68 L35.24 543.03 L35.39 541.4 L35.53 539.78 L35.68 538.17 L35.83 536.57 L35.97 534.98 L36.12 533.41 L36.27 531.85 L36.41 530.3 L36.56 528.77 L36.71 527.25 L36.85 525.74 L37 524.25 L37.15 522.76 L37.29 521.28 L37.44 519.79 L37.59 518.31 L37.73 516.84 L37.88 515.37 L38.03 513.91 L38.18 512.46 L38.32 511.03 L38.47 509.61 L38.62 508.22 L38.76 506.85 L38.91 505.5 L39.06 504.19 L39.2 502.9 L39.35 501.65 L39.5 500.44 L39.64 499.25 L39.79 498.1 L39.94 496.97 L40.08 495.88 L40.23 494.8 L40.38 493.75 L40.52 492.72 L40.67 491.7 L40.82 490.71 L40.96 489.73 L41.11 488.76 L41.26 487.81 L41.4 486.86 L41.55 485.93 L41.7 485 L41.84 484.08 L41.99 483.17 L42.14 482.26 L42.28 481.35 L42.43 480.44 L42.58 479.53 L42.72 478.62 L42.87 477.7 L43.02 476.79 L43.16 475.87 L43.31 474.95 L43.46 474.03 L43.6 473.1 L43.75 472.18 L43.9 471.26 L44.05 470.33 L44.19 469.41 L44.34 468.48 L44.49 467.56 L44.63 466.64 L44.78 465.72 L44.93 464.8 L45.07 463.89 L45.22 462.97 L45.37 462.06 L45.51 461.15 L45.66 460.24 L45.81 459.33 L45.95 458.42 L46.1 457.52 L46.25 456.61 L46.39 455.71 L46.54 454.81 L46.69 453.9 L46.83 453 L46.98 452.1 L47.13 451.2 L47.27 450.3 L47.42 449.4 L47.57 448.5 L47.71 447.6 L47.86 446.7 L48.01 445.8 L48.15 444.91 L48.3 444.01 L48.45 443.11 L48.59 442.22 L48.74 441.32 L48.89 440.43 L49.03 439.54 L49.18 438.65 L49.33 437.76 L49.47 436.88 L49.62 436 L49.77 435.12 L49.92 434.25 L50.06 433.38 L50.21 432.51 L50.36 431.64 L50.5 430.78 L50.65 429.93 L50.8 429.08 L50.94 428.23 L51.09 427.38 L51.24 426.54 L51.38 425.71 L51.53 424.87 L51.68 424.04 L51.82 423.22 L51.97 422.4 L52.12 421.58 L52.26 420.76 L52.41 419.95 L52.56 419.15 L52.84 417.58 L53.13 416.03 L53.42 414.5 L53.7 412.97 L53.99 411.47 L54.28 409.98 L54.56 408.51 L54.85 407.06 L55.14 405.62 L55.42 404.2 L55.71 402.8 L55.99 401.41 L56.28 400.03 L56.57 398.67 L56.85 397.32 L57.14 395.99 L57.43 394.68 L57.71 393.37 L58 392.09 L58.29 390.81 L58.57 389.56 L58.86 388.33 L59.15 387.1 L59.43 385.9 L59.72 384.72 L60.01 383.56 L60.29 382.42 L60.58 381.3 L60.87 380.21 L61.15 379.14 L61.44 378.09 L61.73 377.08 L62.01 376.09 L62.3 375.12 L62.58 374.18 L62.87 373.26 L63.16 372.36 L63.44 371.48 L63.73 370.62 L64.02 369.78 L64.3 368.96 L64.59 368.14 L64.88 367.35 L65.16 366.55 L65.45 365.77 L65.74 364.99 L66.02 364.22 L66.31 363.46 L66.6 362.69 L66.88 361.94 L67.17 361.19 L67.46 360.44 L67.74 359.7 L68.03 358.96 L68.31 358.24 L68.6 357.51 L68.89 356.8 L69.17 356.1 L69.46 355.41 L69.75 354.72 L70.03 354.05 L70.32 353.4 L70.61 352.75 L70.89 352.13 L71.18 351.51 L71.47 350.9 L71.75 350.31 L72.04 349.73 L72.33 349.17 L72.61 348.61 L72.9 348.07 L73.19 347.54 L73.47 347.02 L73.76 346.51 L74.05 346.01 L74.33 345.51 L74.62 345.03 L74.9 344.55 L75.19 344.08 L75.48 343.62 L75.76 343.17 L76.05 342.72 L76.34 342.28 L76.62 341.85 L76.91 341.42 L77.2 341 L77.48 340.59 L77.77 340.19 L78.06 339.79 L78.34 339.41 L78.63 339.03 L78.92 338.66 L79.2 338.31 L79.49 337.96 L79.78 337.62 L80.06 337.29 L80.35 336.97 L80.63 336.66 L80.92 336.35 L81.21 336.06 L81.49 335.77 L81.78 335.49 L82.07 335.22 L82.35 334.96 L82.64 334.71 L82.93 334.47 L83.21 334.23 L83.5 334.01 L83.79 333.79 L84.07 333.58 L84.36 333.39 L84.65 333.2 L84.93 333.02 L85.22 332.84 L85.51 332.68 L85.79 332.52 L86.08 332.37 L86.37 332.23 L86.65 332.09 L86.94 331.96 L87.22 331.83 L87.51 331.71 L87.8 331.6 L88.08 331.49 L88.37 331.38 L88.66 331.29 L88.94 331.19 L89.23 331.1 L89.52 331.02 L89.8 330.94 L90.09 330.86 L90.38 330.79 L90.66 330.72 L90.95 330.65 L91.24 330.59 L91.52 330.52 L91.81 330.46 L92.1 330.39 L92.38 330.33 L92.67 330.27 L92.95 330.2 L93.24 330.13 L93.53 330.07 L93.81 330 L94.1 329.93 L94.39 329.86 L94.67 329.78 L94.96 329.71 L95.25 329.63 L95.53 329.55 L95.82 329.47 L96.11 329.39 L96.39 329.31 L96.68 329.22 L96.97 329.13 L97.25 329.04 L97.54 328.94 L97.83 328.84 L98.11 328.74 L98.4 328.64 L98.69 328.53 L98.97 328.41 L99.26 328.3 L99.54 328.18 L99.83 328.06 L100.12 327.93 L100.4 327.8 L100.69 327.66 L100.98 327.52 L101.26 327.38 L101.55 327.23 L101.84 327.08 L102.12 326.93 L102.41 326.77 L102.7 326.6 L102.98 326.43 L103.27 326.26 L103.56 326.08 L103.84 325.9 L104.13 325.71 L104.42 325.52 L104.7 325.33 L104.99 325.13 L105.27 324.94 L105.56 324.74 L105.85 324.54 L106.13 324.34 L106.42 324.13 L106.71 323.93 L106.99 323.73 L107.28 323.52 L107.57 323.32 L107.85 323.11 L108.14 322.9 L108.43 322.7 L108.71 322.49 L109 322.28 L109.29 322.07 L109.57 321.86 L109.86 321.65 L110.15 321.44 L110.43 321.22 L110.72 321.01 L111.01 320.79 L111.29 320.57 L111.58 320.35 L111.86 320.13 L112.15 319.91 L112.44 319.69 L112.72 319.47 L113.01 319.25 L113.3 319.02 L113.58 318.8 L113.87 318.57 L114.16 318.35 L114.44 318.12 L114.73 317.89 L115.02 317.67 L115.3 317.44 L115.59 317.21 L115.88 316.99 L116.16 316.76 L116.45 316.54 L116.74 316.31 L117.02 316.09 L117.31 315.86 L117.59 315.63 L117.88 315.41 L118.17 315.19 L118.45 314.96 L118.74 314.74 L119.03 314.52 L119.31 314.3 L119.6 314.08 L119.89 313.86 L120.17 313.65 L120.46 313.43 L120.75 313.22 L121.03 313 L121.32 312.79 L121.61 312.58 L121.89 312.37 L122.18 312.16 L122.47 311.95 L122.75 311.74 L123.04 311.54 L123.33 311.33 L123.61 311.13 L123.9 310.92 L124.18 310.72 L124.47 310.52 L124.76 310.32 L125.04 310.12 L125.33 309.92 L125.62 309.72 L125.9 309.53 L126.19 309.33 L126.48 309.14 L126.76 308.94 L127.05 308.76 L127.34 308.57 L127.62 308.38 L127.91 308.2 L128.2 308.02 L128.48 307.84 L128.77 307.67 L129.06 307.5 L129.34 307.33 L129.63 307.16 L129.91 307 L130.2 306.84 L130.49 306.68 L130.77 306.53 L131.06 306.37 L131.35 306.22 L131.63 306.08 L131.92 305.93 L132.21 305.79 L132.49 305.65 L132.78 305.51 L133.07 305.38 L133.35 305.25 L133.64 305.12 L133.93 304.99 L134.21 304.87 L134.5 304.75 L134.79 304.63 L135.07 304.51 L135.36 304.4 L135.65 304.29 L135.93 304.18 L136.22 304.07 L136.5 303.97 L136.79 303.87 L137.08 303.78 L137.36 303.68 L137.65 303.59 L137.94 303.5 L138.22 303.42 L138.51 303.33 L138.8 303.25 L139.08 303.17 L139.37 303.1 L139.66 303.02 L139.94 302.95 L140.23 302.88 L140.52 302.81 L140.8 302.75 L141.09 302.68 L141.38 302.62 L141.66 302.56 L141.95 302.5 L142.23 302.45 L142.52 302.39 L142.81 302.34 L143.09 302.29 L143.38 302.24 L143.67 302.19 L143.95 302.15 L144.24 302.1 L144.53 302.06 L144.81 302.02 L145.1 301.98 L145.39 301.95 L145.67 301.91 L145.96 301.88 L146.25 301.85 L146.53 301.83 L146.82 301.8 L147.11 301.78 L147.39 301.76 L147.68 301.73 L147.97 301.71 L148.25 301.7 L148.54 301.68 L148.82 301.66 L149.11 301.65 L149.4 301.64 L149.68 301.62 L149.97 301.61 L150.26 301.6 L150.54 301.59 L150.83 301.58 L151.12 301.57 L151.4 301.56 L151.69 301.56 L151.98 301.55 L152.26 301.54 L152.55 301.54 L152.84 301.53 L153.12 301.53 L153.41 301.52 L153.7 301.52 L153.98 301.51 L154.27 301.51 L154.55 301.51 L154.84 301.51 L155.13 301.5 L155.41 301.5 L155.7 301.5 L155.99 301.5 L156.27 301.5 L156.56 301.5 L156.85 301.5 L157.13 301.5 L157.42 301.5 L157.71 301.5 L157.99 301.5 L158.28 301.5 L158.57 301.5 L158.85 301.5 L159.14 301.5 L159.43 301.5 L159.71 301.5 L160 301.5 L160.29 301.5 L160.57 301.5 L160.86 301.5 L161.14 301.5 L161.43 301.5 L161.72 301.5 L162 301.5 L162.29 301.5 L162.58 301.5 L162.86 301.5 L163.15 301.5 L163.44 301.5 L163.72 301.5 L164.01 301.5 L164.3 301.5 L164.58 301.5 L164.87 301.5 L165.16 301.5 L165.44 301.5 L165.73 301.5 L166.02 301.5 L166.3 301.5 L166.59 301.5 L166.88 301.5 L328.3 301.5" stroke="#ff0000" stroke-width="1.6" fill="none" stroke-linejoin="round"/>
<text x="30" y="551.92" font-size="9.8" text-anchor="end">0</text>
<text x="30" y="527.27" font-size="9.8" text-anchor="end">10</text>
<text x="30" y="502.62" font-size="9.8" text-anchor="end">20</text>
<text x="30" y="477.97" font-size="9.8" text-anchor="end">30</text>
<text x="30" y="453.32" font-size="9.8" text-anchor="end">40</text>
<text x="30" y="428.67" font-size="9.8" text-anchor="end">50</text>
<text x="30" y="404.02" font-size="9.8" text-anchor="end">60</text>
<text x="30" y="379.37" font-size="9.8" text-anchor="end">70</text>
<text x="30" y="354.72" font-size="9.8" text-anchor="end">80</text>
<text x="30" y="330.07" font-size="9.8" text-anchor="end">90</text>
<text x="30" y="305.42" font-size="9.8" text-anchor="end">100</text>
<text x="34.8" y="561.8" font-size="9.8" text-anchor="middle">0</text>
<text x="93.5" y="561.8" font-size="9.8" text-anchor="middle">200</text>
<text x="152.2" y="561.8" font-size="9.8" text-anchor="middle">400</text>
<text x="210.9" y="561.8" font-size="9.8" text-anchor="middle">600</text>
<text x="269.6" y="561.8" font-size="9.8" text-anchor="middle">800</text>
<text x="328.3" y="561.8" font-size="9.8" text-anchor="middle">1000</text>
<text x="181.55" y="576.9" font-size="11.1" text-anchor="middle">Iteration</text>
<text x="0" y="0" font-size="11.1" text-anchor="middle" transform="translate(8.5 423.65) rotate(-90)">Percentage (%)</text>
<rect x="226.3" y="309.4" width="94.1" height="26.6" fill="#fff" stroke="#8c8c8c" stroke-width="1"/>
<path d="M229.2 316.8H259.7" stroke="#0000ff" stroke-width="1.6"/>
<path d="M229.2 328.6H259.7" stroke="#ff0000" stroke-width="1.6"/>
<text font-size="9.1" transform="translate(261.6 320.7) scale(1 1.08)">Exploration%</text>
<text font-size="9.1" transform="translate(261.6 332.5) scale(1 1.08)">Exploitation%</text>
<text class="cap" x="170" y="599.6" font-size="19" text-anchor="middle">(c)</text>
</g>
<g>
<path d="M438.36 300.1V547.9M497.22 300.1V547.9M556.08 300.1V547.9M614.94 300.1V547.9M379.5 523.12H673.8M379.5 498.34H673.8M379.5 473.56H673.8M379.5 448.78H673.8M379.5 424H673.8M379.5 399.22H673.8M379.5 374.44H673.8M379.5 349.66H673.8M379.5 324.88H673.8" stroke="#efefef" stroke-width="1" fill="none"/>
<path d="M379.5 547.9v-3M379.5 300.1v3M438.36 547.9v-3M438.36 300.1v3M497.22 547.9v-3M497.22 300.1v3M556.08 547.9v-3M556.08 300.1v3M614.94 547.9v-3M614.94 300.1v3M673.8 547.9v-3M673.8 300.1v3M379.5 547.9h3M673.8 547.9h-3M379.5 523.12h3M673.8 523.12h-3M379.5 498.34h3M673.8 498.34h-3M379.5 473.56h3M673.8 473.56h-3M379.5 448.78h3M673.8 448.78h-3M379.5 424h3M673.8 424h-3M379.5 399.22h3M673.8 399.22h-3M379.5 374.44h3M673.8 374.44h-3M379.5 349.66h3M673.8 349.66h-3M379.5 324.88h3M673.8 324.88h-3M379.5 300.1h3M673.8 300.1h-3" stroke="#777" stroke-width="1" fill="none"/>
<rect x="379.5" y="300.1" width="294.3" height="247.8" fill="none" stroke="#888" stroke-width="1"/>
<path d="M379.5 300.1 L379.65 300.18 L379.79 300.27 L379.94 300.38 L380.09 300.5 L380.24 300.64 L380.38 300.78 L380.53 300.93 L380.68 301.09 L380.82 301.26 L380.97 301.44 L381.12 301.64 L381.27 301.88 L381.41 302.17 L381.56 302.55 L381.71 303.07 L381.85 303.72 L382 304.51 L382.15 305.41 L382.3 306.37 L382.44 307.39 L382.59 308.44 L382.74 309.49 L382.88 310.54 L383.03 311.6 L383.18 312.67 L383.33 313.76 L383.47 314.88 L383.62 316.04 L383.77 317.24 L383.91 318.47 L384.06 319.75 L384.21 321.08 L384.36 322.47 L384.5 323.93 L384.65 325.46 L384.8 327.09 L384.94 328.8 L385.09 330.59 L385.24 332.45 L385.39 334.37 L385.53 336.31 L385.68 338.27 L385.83 340.21 L385.97 342.13 L386.12 344 L386.27 345.82 L386.42 347.59 L386.56 349.3 L386.71 350.95 L386.86 352.55 L387 354.12 L387.15 355.64 L387.3 357.13 L387.45 358.59 L387.59 360.02 L387.74 361.42 L387.89 362.8 L388.03 364.16 L388.18 365.49 L388.33 366.8 L388.48 368.09 L388.62 369.36 L388.77 370.61 L388.92 371.83 L389.06 373.04 L389.21 374.23 L389.36 375.39 L389.51 376.54 L389.65 377.67 L389.8 378.78 L389.95 379.87 L390.09 380.95 L390.24 382.01 L390.39 383.06 L390.54 384.1 L390.68 385.13 L390.83 386.16 L390.98 387.17 L391.12 388.18 L391.27 389.19 L391.42 390.2 L391.57 391.2 L391.71 392.21 L391.86 393.21 L392.01 394.22 L392.15 395.23 L392.3 396.25 L392.45 397.27 L392.6 398.29 L392.74 399.31 L392.89 400.34 L393.04 401.37 L393.18 402.41 L393.33 403.45 L393.48 404.49 L393.63 405.54 L393.77 406.59 L393.92 407.64 L394.07 408.69 L394.21 409.75 L394.36 410.8 L394.51 411.86 L394.66 412.92 L394.8 413.98 L394.95 415.05 L395.1 416.11 L395.25 417.18 L395.39 418.25 L395.54 419.33 L395.69 420.41 L395.83 421.49 L395.98 422.58 L396.13 423.67 L396.28 424.76 L396.42 425.86 L396.57 426.96 L396.72 428.07 L396.86 429.18 L397.01 430.29 L397.16 431.41 L397.31 432.53 L397.59 434.7 L397.88 436.86 L398.17 439.01 L398.45 441.12 L398.74 443.19 L399.03 445.22 L399.32 447.19 L399.6 449.1 L399.89 450.96 L400.18 452.77 L400.47 454.53 L400.75 456.25 L401.04 457.95 L401.33 459.6 L401.61 461.24 L401.9 462.85 L402.19 464.44 L402.48 466.02 L402.76 467.59 L403.05 469.15 L403.34 470.7 L403.63 472.24 L403.91 473.78 L404.2 475.31 L404.49 476.84 L404.77 478.36 L405.06 479.88 L405.35 481.38 L405.64 482.88 L405.92 484.37 L406.21 485.85 L406.5 487.31 L406.79 488.78 L407.07 490.24 L407.36 491.69 L407.65 493.15 L407.93 494.59 L408.22 496.04 L408.51 497.49 L408.8 498.93 L409.08 500.37 L409.37 501.81 L409.66 503.24 L409.95 504.66 L410.23 506.07 L410.52 507.45 L410.81 508.8 L411.1 510.11 L411.38 511.38 L411.67 512.61 L411.96 513.79 L412.24 514.93 L412.53 516.03 L412.82 517.11 L413.11 518.17 L413.39 519.22 L413.68 520.26 L413.97 521.3 L414.26 522.34 L414.54 523.39 L414.83 524.45 L415.12 525.5 L415.4 526.53 L415.69 527.55 L415.98 528.54 L416.27 529.48 L416.55 530.39 L416.84 531.24 L417.13 532.05 L417.42 532.82 L417.7 533.54 L417.99 534.23 L418.28 534.88 L418.56 535.49 L418.85 536.07 L419.14 536.62 L419.43 537.14 L419.71 537.63 L420 538.09 L420.29 538.53 L420.58 538.95 L420.86 539.35 L421.15 539.73 L421.44 540.1 L421.73 540.45 L422.01 540.8 L422.3 541.14 L422.59 541.47 L422.87 541.79 L423.16 542.11 L423.45 542.42 L423.74 542.73 L424.02 543.04 L424.31 543.34 L424.6 543.63 L424.89 543.91 L425.17 544.19 L425.46 544.45 L425.75 544.71 L426.03 544.95 L426.32 545.17 L426.61 545.38 L426.9 545.58 L427.18 545.77 L427.47 545.95 L427.76 546.11 L428.05 546.27 L428.33 546.41 L428.62 546.55 L428.91 546.67 L429.19 546.79 L429.48 546.89 L429.77 546.99 L430.06 547.07 L430.34 547.14 L430.63 547.21 L430.92 547.27 L431.21 547.33 L431.49 547.38 L431.78 547.43 L432.07 547.48 L432.35 547.52 L432.64 547.56 L432.93 547.6 L433.22 547.64 L433.5 547.67 L433.79 547.7 L434.08 547.73 L434.37 547.75 L434.65 547.77 L434.94 547.79 L435.23 547.81 L435.52 547.82 L435.8 547.84 L436.09 547.84 L436.38 547.85 L436.66 547.86 L436.95 547.86 L437.24 547.87 L437.53 547.87 L437.81 547.88 L438.1 547.88 L438.39 547.88 L438.68 547.89 L438.96 547.89 L439.25 547.89 L439.54 547.89 L439.82 547.89 L440.11 547.9 L440.4 547.9 L440.69 547.9 L440.97 547.9 L441.26 547.9 L441.55 547.9 L441.84 547.9 L442.12 547.9 L442.41 547.9 L442.7 547.9 L442.98 547.9 L443.27 547.9 L443.56 547.9 L443.85 547.9 L444.13 547.9 L444.42 547.9 L444.71 547.9 L445 547.9 L445.28 547.9 L445.57 547.9 L445.86 547.9 L446.14 547.9 L446.43 547.9 L446.72 547.9 L447.01 547.9 L447.29 547.9 L447.58 547.9 L447.87 547.9 L448.16 547.9 L448.44 547.9 L448.73 547.9 L449.02 547.9 L449.31 547.9 L449.59 547.9 L449.88 547.9 L450.17 547.9 L450.45 547.9 L450.74 547.9 L451.03 547.9 L451.32 547.9 L451.6 547.9 L451.89 547.9 L452.18 547.9 L452.47 547.9 L452.75 547.9 L453.04 547.9 L453.33 547.9 L453.61 547.9 L453.9 547.9 L454.19 547.9 L454.48 547.9 L454.76 547.9 L455.05 547.9 L455.34 547.9 L455.63 547.9 L455.91 547.9 L456.2 547.9 L456.49 547.9 L456.77 547.9 L457.06 547.9 L457.35 547.9 L457.64 547.9 L457.92 547.9 L458.21 547.9 L458.5 547.9 L458.79 547.9 L459.07 547.9 L459.36 547.9 L459.65 547.9 L459.93 547.9 L460.22 547.9 L460.51 547.9 L460.8 547.9 L461.08 547.9 L461.37 547.9 L461.66 547.9 L461.95 547.9 L462.23 547.9 L462.52 547.9 L462.81 547.9 L463.1 547.9 L463.38 547.9 L463.67 547.9 L463.96 547.9 L464.24 547.9 L464.53 547.9 L464.82 547.9 L465.11 547.9 L465.39 547.9 L465.68 547.9 L465.97 547.9 L466.26 547.9 L466.54 547.9 L466.83 547.9 L467.12 547.9 L467.4 547.9 L467.69 547.9 L467.98 547.9 L468.27 547.9 L468.55 547.9 L468.84 547.9 L469.13 547.9 L469.42 547.9 L469.7 547.9 L469.99 547.9 L470.28 547.9 L470.56 547.9 L470.85 547.9 L471.14 547.9 L471.43 547.9 L471.71 547.9 L472 547.9 L472.29 547.9 L472.58 547.9 L472.86 547.9 L473.15 547.9 L473.44 547.9 L473.73 547.9 L474.01 547.9 L474.3 547.9 L474.59 547.9 L474.87 547.9 L475.16 547.9 L475.45 547.9 L475.74 547.9 L476.02 547.9 L476.31 547.9 L476.6 547.9 L476.89 547.9 L477.17 547.9 L477.46 547.9 L477.75 547.9 L478.03 547.9 L478.32 547.9 L478.61 547.9 L478.9 547.9 L479.18 547.9 L479.47 547.9 L479.76 547.9 L480.05 547.9 L480.33 547.9 L480.62 547.9 L480.91 547.9 L481.19 547.9 L481.48 547.9 L481.77 547.9 L482.06 547.9 L482.34 547.9 L482.63 547.9 L482.92 547.9 L483.21 547.9 L483.49 547.9 L483.78 547.9 L484.07 547.9 L484.35 547.9 L484.64 547.9 L484.93 547.9 L485.22 547.9 L485.5 547.9 L485.79 547.9 L486.08 547.9 L486.37 547.9 L486.65 547.9 L486.94 547.9 L487.23 547.9 L487.52 547.9 L487.8 547.9 L488.09 547.9 L488.38 547.9 L488.66 547.9 L488.95 547.9 L489.24 547.9 L489.53 547.9 L489.81 547.9 L490.1 547.9 L490.39 547.9 L490.68 547.9 L490.96 547.9 L491.25 547.9 L491.54 547.9 L491.82 547.9 L492.11 547.9 L492.4 547.9 L492.69 547.9 L492.97 547.9 L493.26 547.9 L493.55 547.9 L493.84 547.9 L494.12 547.9 L494.41 547.9 L494.7 547.9 L494.98 547.9 L495.27 547.9 L495.56 547.9 L495.85 547.9 L496.13 547.9 L496.42 547.9 L496.71 547.9 L497 547.9 L497.28 547.9 L497.57 547.9 L497.86 547.9 L498.14 547.9 L498.43 547.9 L498.72 547.9 L499.01 547.9 L499.29 547.9 L499.58 547.9 L499.87 547.9 L500.16 547.9 L500.44 547.9 L500.73 547.9 L501.02 547.9 L501.31 547.9 L501.59 547.9 L501.88 547.9 L502.17 547.9 L502.45 547.9 L502.74 547.9 L503.03 547.9 L503.32 547.9 L503.6 547.9 L503.89 547.9 L504.18 547.9 L504.47 547.9 L504.75 547.9 L505.04 547.9 L505.33 547.9 L505.61 547.9 L505.9 547.9 L506.19 547.9 L506.48 547.9 L506.76 547.9 L507.05 547.9 L507.34 547.9 L507.63 547.9 L507.91 547.9 L508.2 547.9 L508.49 547.9 L508.77 547.9 L509.06 547.9 L509.35 547.9 L509.64 547.9 L509.92 547.9 L510.21 547.9 L510.5 547.9 L510.79 547.9 L511.07 547.9 L511.36 547.9 L511.65 547.9 L511.93 547.9 L673.8 547.9" stroke="#0000ff" stroke-width="1.6" fill="none" stroke-linejoin="round"/>
<path d="M379.5 547.9 L379.65 547.82 L379.79 547.73 L379.94 547.62 L380.09 547.5 L380.24 547.36 L380.38 547.22 L380.53 547.07 L380.68 546.91 L380.82 546.74 L380.97 546.56 L381.12 546.36 L381.27 546.12 L381.41 545.83 L381.56 545.45 L381.71 544.93 L381.85 544.28 L382 543.49 L382.15 542.59 L382.3 541.63 L382.44 540.61 L382.59 539.56 L382.74 538.51 L382.88 537.46 L383.03 536.4 L383.18 535.33 L383.33 534.24 L383.47 533.12 L383.62 531.96 L383.77 530.76 L383.91 529.53 L384.06 528.25 L384.21 526.92 L384.36 525.53 L384.5 524.07 L384.65 522.54 L384.8 520.91 L384.94 519.2 L385.09 517.41 L385.24 515.55 L385.39 513.63 L385.53 511.69 L385.68 509.73 L385.83 507.79 L385.97 505.87 L386.12 504 L386.27 502.18 L386.42 500.41 L386.56 498.7 L386.71 497.05 L386.86 495.45 L387 493.88 L387.15 492.36 L387.3 490.87 L387.45 489.41 L387.59 487.98 L387.74 486.58 L387.89 485.2 L388.03 483.84 L388.18 482.51 L388.33 481.2 L388.48 479.91 L388.62 478.64 L388.77 477.39 L388.92 476.17 L389.06 474.96 L389.21 473.77 L389.36 472.61 L389.51 471.46 L389.65 470.33 L389.8 469.22 L389.95 468.13 L390.09 467.05 L390.24 465.99 L390.39 464.94 L390.54 463.9 L390.68 462.87 L390.83 461.84 L390.98 460.83 L391.12 459.82 L391.27 458.81 L391.42 457.8 L391.57 456.8 L391.71 455.79 L391.86 454.79 L392.01 453.78 L392.15 452.77 L392.3 451.75 L392.45 450.73 L392.6 449.71 L392.74 448.69 L392.89 447.66 L393.04 446.63 L393.18 445.59 L393.33 444.55 L393.48 443.51 L393.63 442.46 L393.77 441.41 L393.92 440.36 L394.07 439.31 L394.21 438.25 L394.36 437.2 L394.51 436.14 L394.66 435.08 L394.8 434.02 L394.95 432.95 L395.1 431.89 L395.25 430.82 L395.39 429.75 L395.54 428.67 L395.69 427.59 L395.83 426.51 L395.98 425.42 L396.13 424.33 L396.28 423.24 L396.42 422.14 L396.57 421.04 L396.72 419.93 L396.86 418.82 L397.01 417.71 L397.16 416.59 L397.31 415.47 L397.59 413.3 L397.88 411.14 L398.17 408.99 L398.45 406.88 L398.74 404.81 L399.03 402.78 L399.32 400.81 L399.6 398.9 L399.89 397.04 L400.18 395.23 L400.47 393.47 L400.75 391.75 L401.04 390.05 L401.33 388.4 L401.61 386.76 L401.9 385.15 L402.19 383.56 L402.48 381.98 L402.76 380.41 L403.05 378.85 L403.34 377.3 L403.63 375.76 L403.91 374.22 L404.2 372.69 L404.49 371.16 L404.77 369.64 L405.06 368.12 L405.35 366.62 L405.64 365.12 L405.92 363.63 L406.21 362.15 L406.5 360.69 L406.79 359.22 L407.07 357.76 L407.36 356.31 L407.65 354.85 L407.93 353.41 L408.22 351.96 L408.51 350.51 L408.8 349.07 L409.08 347.63 L409.37 346.19 L409.66 344.76 L409.95 343.34 L410.23 341.93 L410.52 340.55 L410.81 339.2 L411.1 337.89 L411.38 336.62 L411.67 335.39 L411.96 334.21 L412.24 333.07 L412.53 331.97 L412.82 330.89 L413.11 329.83 L413.39 328.78 L413.68 327.74 L413.97 326.7 L414.26 325.66 L414.54 324.61 L414.83 323.55 L415.12 322.5 L415.4 321.47 L415.69 320.45 L415.98 319.46 L416.27 318.52 L416.55 317.61 L416.84 316.76 L417.13 315.95 L417.42 315.18 L417.7 314.46 L417.99 313.77 L418.28 313.12 L418.56 312.51 L418.85 311.93 L419.14 311.38 L419.43 310.86 L419.71 310.37 L420 309.91 L420.29 309.47 L420.58 309.05 L420.86 308.65 L421.15 308.27 L421.44 307.9 L421.73 307.55 L422.01 307.2 L422.3 306.86 L422.59 306.53 L422.87 306.21 L423.16 305.89 L423.45 305.58 L423.74 305.27 L424.02 304.96 L424.31 304.66 L424.6 304.37 L424.89 304.09 L425.17 303.81 L425.46 303.55 L425.75 303.29 L426.03 303.05 L426.32 302.83 L426.61 302.62 L426.9 302.42 L427.18 302.23 L427.47 302.05 L427.76 301.89 L428.05 301.73 L428.33 301.59 L428.62 301.45 L428.91 301.33 L429.19 301.21 L429.48 301.11 L429.77 301.01 L430.06 300.93 L430.34 300.86 L430.63 300.79 L430.92 300.73 L431.21 300.67 L431.49 300.62 L431.78 300.57 L432.07 300.52 L432.35 300.48 L432.64 300.44 L432.93 300.4 L433.22 300.36 L433.5 300.33 L433.79 300.3 L434.08 300.27 L434.37 300.25 L434.65 300.23 L434.94 300.21 L435.23 300.19 L435.52 300.18 L435.8 300.16 L436.09 300.16 L436.38 300.15 L436.66 300.14 L436.95 300.14 L437.24 300.13 L437.53 300.13 L437.81 300.12 L438.1 300.12 L438.39 300.12 L438.68 300.11 L438.96 300.11 L439.25 300.11 L439.54 300.11 L439.82 300.11 L440.11 300.1 L440.4 300.1 L440.69 300.1 L440.97 300.1 L441.26 300.1 L441.55 300.1 L441.84 300.1 L442.12 300.1 L442.41 300.1 L442.7 300.1 L442.98 300.1 L443.27 300.1 L443.56 300.1 L443.85 300.1 L444.13 300.1 L444.42 300.1 L444.71 300.1 L445 300.1 L445.28 300.1 L445.57 300.1 L445.86 300.1 L446.14 300.1 L446.43 300.1 L446.72 300.1 L447.01 300.1 L447.29 300.1 L447.58 300.1 L447.87 300.1 L448.16 300.1 L448.44 300.1 L448.73 300.1 L449.02 300.1 L449.31 300.1 L449.59 300.1 L449.88 300.1 L450.17 300.1 L450.45 300.1 L450.74 300.1 L451.03 300.1 L451.32 300.1 L451.6 300.1 L451.89 300.1 L452.18 300.1 L452.47 300.1 L452.75 300.1 L453.04 300.1 L453.33 300.1 L453.61 300.1 L453.9 300.1 L454.19 300.1 L454.48 300.1 L454.76 300.1 L455.05 300.1 L455.34 300.1 L455.63 300.1 L455.91 300.1 L456.2 300.1 L456.49 300.1 L456.77 300.1 L457.06 300.1 L457.35 300.1 L457.64 300.1 L457.92 300.1 L458.21 300.1 L458.5 300.1 L458.79 300.1 L459.07 300.1 L459.36 300.1 L459.65 300.1 L459.93 300.1 L460.22 300.1 L460.51 300.1 L460.8 300.1 L461.08 300.1 L461.37 300.1 L461.66 300.1 L461.95 300.1 L462.23 300.1 L462.52 300.1 L462.81 300.1 L463.1 300.1 L463.38 300.1 L463.67 300.1 L463.96 300.1 L464.24 300.1 L464.53 300.1 L464.82 300.1 L465.11 300.1 L465.39 300.1 L465.68 300.1 L465.97 300.1 L466.26 300.1 L466.54 300.1 L466.83 300.1 L467.12 300.1 L467.4 300.1 L467.69 300.1 L467.98 300.1 L468.27 300.1 L468.55 300.1 L468.84 300.1 L469.13 300.1 L469.42 300.1 L469.7 300.1 L469.99 300.1 L470.28 300.1 L470.56 300.1 L470.85 300.1 L471.14 300.1 L471.43 300.1 L471.71 300.1 L472 300.1 L472.29 300.1 L472.58 300.1 L472.86 300.1 L473.15 300.1 L473.44 300.1 L473.73 300.1 L474.01 300.1 L474.3 300.1 L474.59 300.1 L474.87 300.1 L475.16 300.1 L475.45 300.1 L475.74 300.1 L476.02 300.1 L476.31 300.1 L476.6 300.1 L476.89 300.1 L477.17 300.1 L477.46 300.1 L477.75 300.1 L478.03 300.1 L478.32 300.1 L478.61 300.1 L478.9 300.1 L479.18 300.1 L479.47 300.1 L479.76 300.1 L480.05 300.1 L480.33 300.1 L480.62 300.1 L480.91 300.1 L481.19 300.1 L481.48 300.1 L481.77 300.1 L482.06 300.1 L482.34 300.1 L482.63 300.1 L482.92 300.1 L483.21 300.1 L483.49 300.1 L483.78 300.1 L484.07 300.1 L484.35 300.1 L484.64 300.1 L484.93 300.1 L485.22 300.1 L485.5 300.1 L485.79 300.1 L486.08 300.1 L486.37 300.1 L486.65 300.1 L486.94 300.1 L487.23 300.1 L487.52 300.1 L487.8 300.1 L488.09 300.1 L488.38 300.1 L488.66 300.1 L488.95 300.1 L489.24 300.1 L489.53 300.1 L489.81 300.1 L490.1 300.1 L490.39 300.1 L490.68 300.1 L490.96 300.1 L491.25 300.1 L491.54 300.1 L491.82 300.1 L492.11 300.1 L492.4 300.1 L492.69 300.1 L492.97 300.1 L493.26 300.1 L493.55 300.1 L493.84 300.1 L494.12 300.1 L494.41 300.1 L494.7 300.1 L494.98 300.1 L495.27 300.1 L495.56 300.1 L495.85 300.1 L496.13 300.1 L496.42 300.1 L496.71 300.1 L497 300.1 L497.28 300.1 L497.57 300.1 L497.86 300.1 L498.14 300.1 L498.43 300.1 L498.72 300.1 L499.01 300.1 L499.29 300.1 L499.58 300.1 L499.87 300.1 L500.16 300.1 L500.44 300.1 L500.73 300.1 L501.02 300.1 L501.31 300.1 L501.59 300.1 L501.88 300.1 L502.17 300.1 L502.45 300.1 L502.74 300.1 L503.03 300.1 L503.32 300.1 L503.6 300.1 L503.89 300.1 L504.18 300.1 L504.47 300.1 L504.75 300.1 L505.04 300.1 L505.33 300.1 L505.61 300.1 L505.9 300.1 L506.19 300.1 L506.48 300.1 L506.76 300.1 L507.05 300.1 L507.34 300.1 L507.63 300.1 L507.91 300.1 L508.2 300.1 L508.49 300.1 L508.77 300.1 L509.06 300.1 L509.35 300.1 L509.64 300.1 L509.92 300.1 L510.21 300.1 L510.5 300.1 L510.79 300.1 L511.07 300.1 L511.36 300.1 L511.65 300.1 L511.93 300.1 L673.8 300.1" stroke="#ff0000" stroke-width="1.6" fill="none" stroke-linejoin="round"/>
<text x="374.8" y="551.72" font-size="9.8" text-anchor="end">0</text>
<text x="374.8" y="526.94" font-size="9.8" text-anchor="end">10</text>
<text x="374.8" y="502.16" font-size="9.8" text-anchor="end">20</text>
<text x="374.8" y="477.38" font-size="9.8" text-anchor="end">30</text>
<text x="374.8" y="452.6" font-size="9.8" text-anchor="end">40</text>
<text x="374.8" y="427.82" font-size="9.8" text-anchor="end">50</text>
<text x="374.8" y="403.04" font-size="9.8" text-anchor="end">60</text>
<text x="374.8" y="378.26" font-size="9.8" text-anchor="end">70</text>
<text x="374.8" y="353.48" font-size="9.8" text-anchor="end">80</text>
<text x="374.8" y="328.7" font-size="9.8" text-anchor="end">90</text>
<text x="374.8" y="303.92" font-size="9.8" text-anchor="end">100</text>
<text x="379.5" y="561.8" font-size="9.8" text-anchor="middle">0</text>
<text x="438.36" y="561.8" font-size="9.8" text-anchor="middle">200</text>
<text x="497.22" y="561.8" font-size="9.8" text-anchor="middle">400</text>
<text x="556.08" y="561.8" font-size="9.8" text-anchor="middle">600</text>
<text x="614.94" y="561.8" font-size="9.8" text-anchor="middle">800</text>
<text x="673.8" y="561.8" font-size="9.8" text-anchor="middle">1000</text>
<text x="526.65" y="576.9" font-size="11.1" text-anchor="middle">Iteration</text>
<text x="0" y="0" font-size="11.1" text-anchor="middle" transform="translate(351.6 423.4) rotate(-90)">Percentage (%)</text>
<rect x="571.4" y="308.4" width="94.6" height="26.5" fill="#fff" stroke="#8c8c8c" stroke-width="1"/>
<path d="M574.4 315.8H604.7" stroke="#0000ff" stroke-width="1.6"/>
<path d="M574.4 327.8H604.7" stroke="#ff0000" stroke-width="1.6"/>
<text font-size="9.1" transform="translate(607 319.4) scale(1 1.08)">Exploration%</text>
<text font-size="9.1" transform="translate(607 331.4) scale(1 1.08)">Exploitation%</text>
<text class="cap" x="514.75" y="599.5" font-size="19" text-anchor="middle">(d)</text>
</g>
</svg></div>
</body></html>
